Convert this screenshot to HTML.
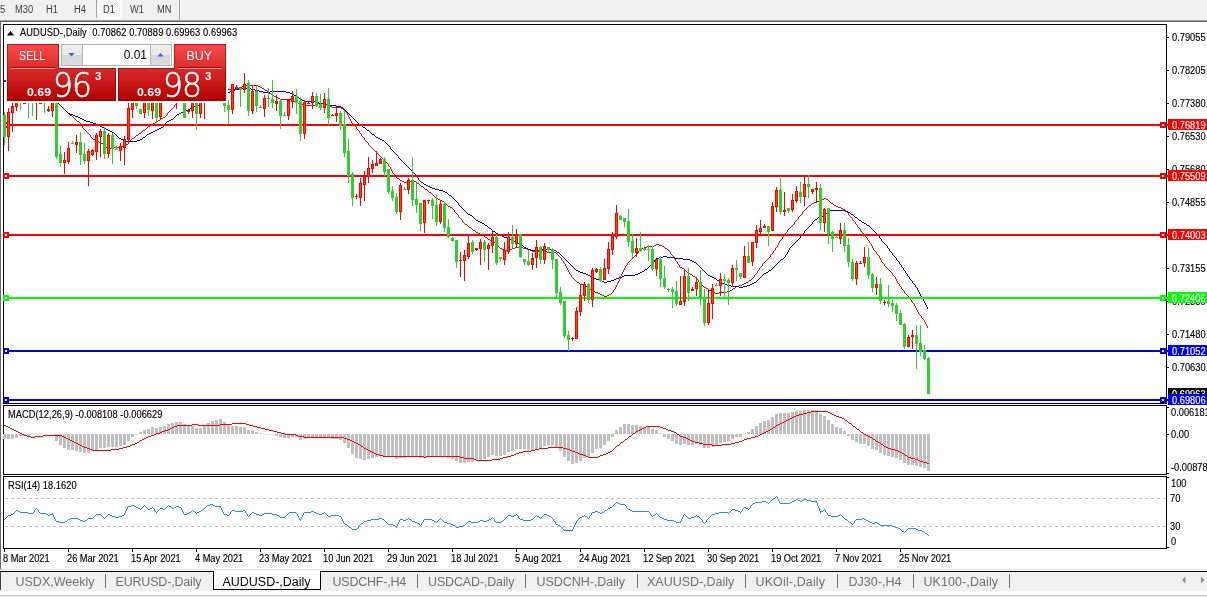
<!DOCTYPE html><html><head><meta charset="utf-8"><title>AUDUSD-,Daily</title>
<style>
html,body{margin:0;padding:0}
body{width:1207px;height:597px;overflow:hidden;background:#f0f0f0;position:relative;font-family:"Liberation Sans", sans-serif;}
.t{position:absolute;white-space:nowrap;line-height:1;color:#000;}
.ax{font-size:10px;letter-spacing:0;transform:scaleX(0.93);transform-origin:0 50%;-webkit-text-stroke:0.15px #000}
.tb{font-size:10px;color:#3c3c3c;top:4.5px;letter-spacing:0px;transform:scaleX(0.93);transform-origin:0 50%}
.tab{font-size:12.5px;color:#707070;top:576px;}
.sep{position:absolute;top:574px;width:1px;height:14px;background:#707070;}
.pl{position:absolute;left:1168px;width:39px;height:11px;color:#fff;font-size:10px;letter-spacing:0;line-height:11px;white-space:nowrap;overflow:hidden;}
.pl span{position:absolute;left:4px;top:0.5px;transform:scaleX(0.93);transform-origin:0 50%;-webkit-text-stroke:0.15px #fff}
svg{position:absolute;left:0;top:0;}
.big{top:24.5px;font-family:"DejaVu Sans","Liberation Sans",sans-serif;font-weight:200;font-size:33px;color:#fff;transform:scaleX(0.95);transform-origin:0 0;letter-spacing:-1px;-webkit-text-stroke:0.55px #fff}
</style></head><body>
<div style="position:absolute;left:0;top:0;width:1207px;height:20px;background:#f0f0f0"></div>
<div style="position:absolute;left:96px;top:0;width:26px;height:19px;background:#fff"></div>
<div style="position:absolute;left:97px;top:0;width:24px;height:18px;background:repeating-conic-gradient(#ffffff 0% 25%, #f0f0f0 0% 50%) 0 0/2px 2px"></div>
<div style="position:absolute;left:96px;top:0;width:1px;height:18px;background:#a0a0a0"></div>
<div style="position:absolute;left:179px;top:0;width:1px;height:20px;background:#a0a0a0"></div><div style="position:absolute;left:180px;top:0;width:1px;height:20px;background:#fff"></div>
<div class="t tb" style="left:0px">5</div>
<div class="t tb" style="left:15px">M30</div>
<div class="t tb" style="left:46px">H1</div>
<div class="t tb" style="left:74px">H4</div>
<div class="t tb" style="left:103px">D1</div>
<div class="t tb" style="left:130px">W1</div>
<div class="t tb" style="left:157px">MN</div>
<div style="position:absolute;left:0;top:20px;width:1207px;height:1px;background:#a0a0a0"></div>
<div style="position:absolute;left:0;top:21px;width:1207px;height:1px;background:#696969"></div>
<div style="position:absolute;left:0;top:22px;width:1207px;height:548px;background:#fff"></div>
<div style="position:absolute;left:0;top:21px;width:1px;height:548px;background:#696969"></div>
<div style="position:absolute;left:0;top:569px;width:1207px;height:1px;background:#e6e6e6"></div><div style="position:absolute;left:0;top:570px;width:1207px;height:1px;background:#f6f6f6"></div>
<div style="position:absolute;left:0;top:571px;width:1207px;height:1px;background:#000"></div>
<div style="position:absolute;left:0;top:572px;width:1207px;height:19px;background:#f0f0f0"></div>
<div style="position:absolute;left:0;top:571px;width:1px;height:19px;background:#404040"></div>
<div style="position:absolute;left:0;top:591px;width:1207px;height:4px;background:#fcfcfc"></div>
<div style="position:absolute;left:0;top:595px;width:1207px;height:1px;background:#c8c8c8"></div>
<div style="position:absolute;left:0;top:596px;width:1207px;height:1px;background:#f4f4f4"></div>
<div style="position:absolute;left:213px;top:571px;width:106px;height:18px;background:#fff;border:1px solid #000;border-top:none;box-sizing:content-box"></div>
<div class="t tab" style="left:15.5px;letter-spacing:0px;">USDX,Weekly</div>
<div class="t tab" style="left:115.5px;letter-spacing:-0.18px;">EURUSD-,Daily</div>
<div class="t tab" style="left:222.5px;letter-spacing:-0.02px;color:#000;">AUDUSD-,Daily</div>
<div class="t tab" style="left:332.5px;letter-spacing:-0.23px;">USDCHF-,H4</div>
<div class="t tab" style="left:428.0px;letter-spacing:-0.15px;">USDCAD-,Daily</div>
<div class="t tab" style="left:536.5px;letter-spacing:-0.03px;">USDCNH-,Daily</div>
<div class="t tab" style="left:647.0px;letter-spacing:-0.02px;">XAUUSD-,Daily</div>
<div class="t tab" style="left:755.5px;letter-spacing:0.13px;">UKOil-,Daily</div>
<div class="t tab" style="left:848.5px;letter-spacing:0.03px;">DJ30-,H4</div>
<div class="t tab" style="left:923.5px;letter-spacing:0.08px;">UK100-,Daily</div>
<div class="sep" style="left:105px"></div>
<div class="sep" style="left:417px"></div>
<div class="sep" style="left:525px"></div>
<div class="sep" style="left:637px"></div>
<div class="sep" style="left:745px"></div>
<div class="sep" style="left:837px"></div>
<div class="sep" style="left:913px"></div>
<div class="sep" style="left:1009px"></div>
<svg width="1207" height="597" viewBox="0 0 1207 597" shape-rendering="crispEdges">
<g fill="#000">
<rect x="3" y="24" width="1164" height="1"/>
<rect x="3" y="24" width="1" height="380"/>
<rect x="3" y="403" width="1164" height="1"/>
<rect x="1166" y="24" width="1" height="380"/>
<rect x="3" y="405" width="1164" height="1"/>
<rect x="3" y="405" width="1" height="70"/>
<rect x="3" y="474" width="1164" height="1"/>
<rect x="1166" y="405" width="1" height="70"/>
<rect x="3" y="476" width="1164" height="1"/>
<rect x="3" y="476" width="1" height="73"/>
<rect x="3" y="548" width="1164" height="1"/>
<rect x="1166" y="476" width="1" height="73"/>
<rect x="1167" y="37" width="2" height="1"/>
<rect x="1167" y="70" width="2" height="1"/>
<rect x="1167" y="103" width="2" height="1"/>
<rect x="1167" y="136" width="2" height="1"/>
<rect x="1167" y="169" width="2" height="1"/>
<rect x="1167" y="202" width="2" height="1"/>
<rect x="1167" y="235" width="2" height="1"/>
<rect x="1167" y="268" width="2" height="1"/>
<rect x="1167" y="301" width="2" height="1"/>
<rect x="1167" y="334" width="2" height="1"/>
<rect x="1167" y="367" width="2" height="1"/>
<rect x="1167" y="400" width="2" height="1"/>
<rect x="1167" y="407" width="2" height="1"/>
<rect x="1167" y="434" width="2" height="1"/>
<rect x="1167" y="473" width="2" height="1"/>
<rect x="1167" y="477" width="2" height="1"/>
<rect x="1167" y="547" width="2" height="1"/>
<rect x="4" y="549" width="1" height="3"/>
<rect x="68" y="549" width="1" height="3"/>
<rect x="132" y="549" width="1" height="3"/>
<rect x="196" y="549" width="1" height="3"/>
<rect x="260" y="549" width="1" height="3"/>
<rect x="324" y="549" width="1" height="3"/>
<rect x="388" y="549" width="1" height="3"/>
<rect x="452" y="549" width="1" height="3"/>
<rect x="516" y="549" width="1" height="3"/>
<rect x="580" y="549" width="1" height="3"/>
<rect x="644" y="549" width="1" height="3"/>
<rect x="708" y="549" width="1" height="3"/>
<rect x="772" y="549" width="1" height="3"/>
<rect x="836" y="549" width="1" height="3"/>
<rect x="900" y="549" width="1" height="3"/>
</g>
<g>
<path d="M58 103h1v1h-1zM176 103h1v1h-1zM59 104h1v1h-1zM175 104h1v1h-1zM60 105h1v1h-1zM174 105h1v1h-1zM61 106h1v1h-1zM174 106h1v1h-1zM62 107h1v1h-1zM173 107h1v1h-1zM63 108h1v1h-1zM172 108h1v1h-1zM64 109h1v1h-1zM171 109h1v1h-1zM65 110h1v1h-1zM170 110h1v1h-1zM66 111h1v1h-1zM169 111h1v1h-1zM67 112h1v1h-1zM168 112h1v1h-1zM68 113h1v1h-1zM167 113h1v1h-1zM69 114h1v1h-1zM167 114h1v1h-1zM70 115h2v1h-2zM166 115h1v1h-1zM72 116h1v1h-1zM165 116h1v1h-1zM73 117h1v1h-1zM163 117h2v1h-2zM74 118h1v1h-1zM161 118h2v1h-2zM75 119h1v1h-1zM160 119h1v1h-1zM76 120h1v1h-1zM158 120h2v1h-2zM77 121h2v1h-2zM157 121h1v1h-1zM79 122h1v1h-1zM155 122h2v1h-2zM80 123h1v1h-1zM153 123h2v1h-2zM81 124h1v1h-1zM151 124h2v1h-2zM81 125h1v1h-1zM150 125h1v1h-1zM82 126h1v1h-1zM148 126h2v1h-2zM82 127h1v1h-1zM147 127h1v1h-1zM83 128h1v1h-1zM146 128h1v1h-1zM84 129h1v1h-1zM145 129h1v1h-1zM85 130h1v1h-1zM143 130h2v1h-2zM86 131h1v1h-1zM142 131h1v1h-1zM87 132h1v1h-1zM141 132h1v1h-1zM88 133h1v1h-1zM139 133h2v1h-2zM89 134h1v1h-1zM138 134h1v1h-1zM90 135h1v1h-1zM136 135h2v1h-2zM90 136h1v1h-1zM135 136h1v1h-1zM91 137h1v1h-1zM134 137h1v1h-1zM92 138h1v1h-1zM132 138h2v1h-2zM93 139h2v1h-2zM131 139h1v1h-1zM95 140h2v1h-2zM130 140h1v1h-1zM97 141h2v1h-2zM129 141h1v1h-1zM99 142h2v1h-2zM128 142h1v1h-1zM101 143h2v1h-2zM128 143h1v1h-1zM103 144h1v1h-1zM126 144h2v1h-2zM104 145h1v1h-1zM124 145h2v1h-2zM105 146h1v1h-1zM120 146h4v1h-4zM106 147h2v1h-2zM114 147h6v1h-6zM108 148h6v1h-6z" fill="#ff0000"/>
<path d="M244 85h14v1h-14zM242 86h2v1h-2zM258 86h2v1h-2zM239 87h3v1h-3zM260 87h2v1h-2zM235 88h4v1h-4zM262 88h2v1h-2zM228 89h7v1h-7zM264 89h1v1h-1zM265 90h2v1h-2zM267 91h1v1h-1zM268 92h1v1h-1zM269 93h2v1h-2zM271 94h1v1h-1zM272 95h2v1h-2zM274 96h2v1h-2zM276 97h2v1h-2zM278 98h2v1h-2zM280 99h11v1h-11zM291 100h3v1h-3zM294 101h2v1h-2zM296 102h2v1h-2zM298 103h2v1h-2zM316 103h7v1h-7zM300 104h3v1h-3zM315 104h1v1h-1zM323 104h4v1h-4zM303 105h12v1h-12zM327 105h3v1h-3zM330 106h2v1h-2zM332 107h9v1h-9zM341 108h2v1h-2zM343 109h1v1h-1zM344 110h1v1h-1zM345 111h1v1h-1zM346 112h1v1h-1zM347 113h1v1h-1zM347 114h1v1h-1zM348 115h1v1h-1zM348 116h1v1h-1zM349 117h1v1h-1zM349 118h1v1h-1zM350 119h1v1h-1zM350 120h1v1h-1zM351 121h1v1h-1zM351 122h1v1h-1zM352 123h1v1h-1zM353 124h1v1h-1zM354 125h1v1h-1zM355 126h1v1h-1zM356 127h1v1h-1zM356 128h1v1h-1zM357 129h1v1h-1zM358 130h1v1h-1zM359 131h1v1h-1zM359 132h1v1h-1zM360 133h1v1h-1zM361 134h1v1h-1zM361 135h1v1h-1zM362 136h1v1h-1zM363 137h1v1h-1zM364 138h1v1h-1zM364 139h1v1h-1zM365 140h1v1h-1zM366 141h1v1h-1zM367 142h1v1h-1zM368 143h1v1h-1zM368 144h1v1h-1zM369 145h1v1h-1zM370 146h1v1h-1zM371 147h1v1h-1zM372 148h1v1h-1zM373 149h1v1h-1zM374 150h1v1h-1zM375 151h1v1h-1zM376 152h1v1h-1zM377 153h1v1h-1zM378 154h1v1h-1zM379 155h1v1h-1zM380 156h1v1h-1zM381 157h1v1h-1zM382 158h1v1h-1zM383 159h1v1h-1zM384 160h1v1h-1zM385 161h1v1h-1zM386 162h1v1h-1zM387 163h1v1h-1zM388 164h1v1h-1zM388 165h1v1h-1zM389 166h1v1h-1zM390 167h1v1h-1zM390 168h1v1h-1zM391 169h1v1h-1zM391 170h1v1h-1zM392 171h1v1h-1zM392 172h1v1h-1zM393 173h1v1h-1zM394 174h1v1h-1zM394 175h1v1h-1zM395 176h1v1h-1zM396 177h1v1h-1zM397 178h2v1h-2zM399 179h1v1h-1zM400 180h2v1h-2zM411 180h3v1h-3zM402 181h2v1h-2zM407 181h4v1h-4zM414 181h2v1h-2zM404 182h3v1h-3zM416 182h1v1h-1zM417 183h2v1h-2zM419 184h1v1h-1zM420 185h1v1h-1zM421 186h2v1h-2zM423 187h1v1h-1zM424 188h1v1h-1zM425 189h2v1h-2zM427 190h1v1h-1zM428 191h1v1h-1zM429 192h2v1h-2zM431 193h1v1h-1zM432 194h1v1h-1zM433 195h1v1h-1zM434 196h1v1h-1zM435 197h1v1h-1zM436 198h2v1h-2zM824 198h2v1h-2zM438 199h2v1h-2zM822 199h2v1h-2zM826 199h2v1h-2zM440 200h2v1h-2zM819 200h3v1h-3zM828 200h1v1h-1zM442 201h2v1h-2zM816 201h3v1h-3zM829 201h1v1h-1zM444 202h1v1h-1zM814 202h2v1h-2zM830 202h1v1h-1zM445 203h1v1h-1zM812 203h2v1h-2zM831 203h2v1h-2zM446 204h1v1h-1zM811 204h1v1h-1zM833 204h1v1h-1zM447 205h1v1h-1zM809 205h2v1h-2zM834 205h2v1h-2zM448 206h2v1h-2zM808 206h1v1h-1zM836 206h2v1h-2zM450 207h2v1h-2zM807 207h1v1h-1zM838 207h3v1h-3zM452 208h1v1h-1zM806 208h1v1h-1zM841 208h2v1h-2zM453 209h1v1h-1zM805 209h1v1h-1zM843 209h2v1h-2zM454 210h1v1h-1zM804 210h1v1h-1zM845 210h1v1h-1zM454 211h1v1h-1zM803 211h1v1h-1zM846 211h1v1h-1zM455 212h1v1h-1zM802 212h1v1h-1zM847 212h1v1h-1zM456 213h1v1h-1zM802 213h1v1h-1zM848 213h1v1h-1zM457 214h1v1h-1zM801 214h1v1h-1zM848 214h1v1h-1zM458 215h1v1h-1zM800 215h1v1h-1zM849 215h1v1h-1zM458 216h1v1h-1zM799 216h1v1h-1zM850 216h1v1h-1zM459 217h1v1h-1zM798 217h1v1h-1zM851 217h1v1h-1zM460 218h1v1h-1zM798 218h1v1h-1zM852 218h1v1h-1zM461 219h1v1h-1zM797 219h1v1h-1zM852 219h1v1h-1zM462 220h1v1h-1zM796 220h1v1h-1zM853 220h1v1h-1zM462 221h1v1h-1zM795 221h1v1h-1zM854 221h1v1h-1zM463 222h1v1h-1zM794 222h1v1h-1zM855 222h1v1h-1zM464 223h1v1h-1zM794 223h1v1h-1zM855 223h1v1h-1zM465 224h2v1h-2zM793 224h1v1h-1zM856 224h1v1h-1zM467 225h1v1h-1zM792 225h1v1h-1zM857 225h1v1h-1zM468 226h1v1h-1zM791 226h1v1h-1zM857 226h1v1h-1zM469 227h2v1h-2zM790 227h1v1h-1zM858 227h1v1h-1zM471 228h1v1h-1zM789 228h1v1h-1zM859 228h1v1h-1zM472 229h1v1h-1zM788 229h1v1h-1zM860 229h1v1h-1zM473 230h2v1h-2zM787 230h1v1h-1zM860 230h1v1h-1zM475 231h1v1h-1zM787 231h1v1h-1zM861 231h1v1h-1zM476 232h2v1h-2zM786 232h1v1h-1zM862 232h1v1h-1zM478 233h2v1h-2zM785 233h1v1h-1zM863 233h1v1h-1zM480 234h2v1h-2zM785 234h1v1h-1zM864 234h1v1h-1zM482 235h2v1h-2zM784 235h1v1h-1zM864 235h1v1h-1zM484 236h1v1h-1zM783 236h1v1h-1zM865 236h1v1h-1zM485 237h2v1h-2zM782 237h1v1h-1zM866 237h1v1h-1zM487 238h1v1h-1zM782 238h1v1h-1zM867 238h1v1h-1zM488 239h2v1h-2zM781 239h1v1h-1zM867 239h1v1h-1zM490 240h2v1h-2zM780 240h1v1h-1zM868 240h1v1h-1zM492 241h1v1h-1zM779 241h1v1h-1zM869 241h1v1h-1zM493 242h2v1h-2zM779 242h1v1h-1zM869 242h1v1h-1zM495 243h1v1h-1zM778 243h1v1h-1zM870 243h1v1h-1zM496 244h1v1h-1zM656 244h3v1h-3zM778 244h1v1h-1zM871 244h1v1h-1zM497 245h1v1h-1zM654 245h2v1h-2zM659 245h3v1h-3zM777 245h1v1h-1zM871 245h1v1h-1zM498 246h1v1h-1zM647 246h7v1h-7zM662 246h2v1h-2zM777 246h1v1h-1zM872 246h1v1h-1zM499 247h1v1h-1zM515 247h8v1h-8zM644 247h3v1h-3zM664 247h1v1h-1zM776 247h1v1h-1zM872 247h1v1h-1zM500 248h2v1h-2zM512 248h3v1h-3zM523 248h4v1h-4zM642 248h2v1h-2zM665 248h2v1h-2zM775 248h1v1h-1zM873 248h1v1h-1zM502 249h2v1h-2zM510 249h2v1h-2zM527 249h3v1h-3zM640 249h2v1h-2zM667 249h1v1h-1zM775 249h1v1h-1zM873 249h1v1h-1zM504 250h6v1h-6zM530 250h2v1h-2zM539 250h4v1h-4zM639 250h1v1h-1zM668 250h1v1h-1zM774 250h1v1h-1zM874 250h1v1h-1zM532 251h7v1h-7zM543 251h4v1h-4zM551 251h3v1h-3zM638 251h1v1h-1zM669 251h1v1h-1zM773 251h1v1h-1zM875 251h1v1h-1zM547 252h4v1h-4zM554 252h2v1h-2zM638 252h1v1h-1zM670 252h1v1h-1zM773 252h1v1h-1zM876 252h1v1h-1zM556 253h1v1h-1zM637 253h1v1h-1zM670 253h1v1h-1zM772 253h1v1h-1zM876 253h1v1h-1zM557 254h1v1h-1zM636 254h1v1h-1zM671 254h1v1h-1zM771 254h1v1h-1zM877 254h1v1h-1zM558 255h1v1h-1zM635 255h1v1h-1zM672 255h1v1h-1zM770 255h1v1h-1zM878 255h1v1h-1zM559 256h1v1h-1zM634 256h1v1h-1zM673 256h1v1h-1zM770 256h1v1h-1zM879 256h1v1h-1zM560 257h1v1h-1zM633 257h1v1h-1zM673 257h1v1h-1zM769 257h1v1h-1zM879 257h1v1h-1zM561 258h1v1h-1zM632 258h1v1h-1zM674 258h1v1h-1zM768 258h1v1h-1zM880 258h1v1h-1zM561 259h1v1h-1zM631 259h1v1h-1zM675 259h1v1h-1zM767 259h1v1h-1zM880 259h1v1h-1zM562 260h1v1h-1zM630 260h1v1h-1zM675 260h1v1h-1zM766 260h1v1h-1zM881 260h1v1h-1zM563 261h1v1h-1zM629 261h1v1h-1zM676 261h1v1h-1zM765 261h1v1h-1zM881 261h1v1h-1zM563 262h1v1h-1zM628 262h1v1h-1zM677 262h1v1h-1zM764 262h1v1h-1zM882 262h1v1h-1zM564 263h1v1h-1zM627 263h1v1h-1zM677 263h1v1h-1zM763 263h1v1h-1zM883 263h1v1h-1zM565 264h1v1h-1zM627 264h1v1h-1zM678 264h1v1h-1zM762 264h1v1h-1zM884 264h1v1h-1zM565 265h1v1h-1zM626 265h1v1h-1zM679 265h1v1h-1zM762 265h1v1h-1zM884 265h1v1h-1zM566 266h1v1h-1zM625 266h1v1h-1zM679 266h1v1h-1zM761 266h1v1h-1zM885 266h1v1h-1zM566 267h1v1h-1zM625 267h1v1h-1zM680 267h2v1h-2zM760 267h1v1h-1zM886 267h1v1h-1zM567 268h1v1h-1zM624 268h1v1h-1zM682 268h2v1h-2zM759 268h1v1h-1zM887 268h1v1h-1zM567 269h1v1h-1zM624 269h1v1h-1zM684 269h1v1h-1zM759 269h1v1h-1zM888 269h1v1h-1zM568 270h1v1h-1zM623 270h1v1h-1zM685 270h1v1h-1zM758 270h1v1h-1zM889 270h1v1h-1zM568 271h1v1h-1zM623 271h1v1h-1zM686 271h1v1h-1zM757 271h1v1h-1zM890 271h1v1h-1zM569 272h1v1h-1zM622 272h1v1h-1zM687 272h1v1h-1zM757 272h1v1h-1zM891 272h1v1h-1zM569 273h1v1h-1zM622 273h1v1h-1zM688 273h2v1h-2zM756 273h1v1h-1zM892 273h1v1h-1zM570 274h1v1h-1zM621 274h1v1h-1zM690 274h2v1h-2zM755 274h1v1h-1zM892 274h1v1h-1zM571 275h1v1h-1zM621 275h1v1h-1zM692 275h1v1h-1zM754 275h1v1h-1zM893 275h1v1h-1zM571 276h1v1h-1zM620 276h1v1h-1zM693 276h2v1h-2zM754 276h1v1h-1zM894 276h1v1h-1zM572 277h1v1h-1zM620 277h1v1h-1zM695 277h1v1h-1zM753 277h1v1h-1zM895 277h1v1h-1zM573 278h1v1h-1zM620 278h1v1h-1zM696 278h1v1h-1zM752 278h1v1h-1zM895 278h1v1h-1zM574 279h1v1h-1zM619 279h1v1h-1zM697 279h1v1h-1zM751 279h1v1h-1zM896 279h1v1h-1zM575 280h1v1h-1zM619 280h1v1h-1zM698 280h1v1h-1zM749 280h2v1h-2zM896 280h1v1h-1zM576 281h1v1h-1zM618 281h1v1h-1zM698 281h1v1h-1zM748 281h1v1h-1zM897 281h1v1h-1zM577 282h2v1h-2zM618 282h1v1h-1zM699 282h1v1h-1zM746 282h2v1h-2zM897 282h1v1h-1zM579 283h1v1h-1zM617 283h1v1h-1zM700 283h1v1h-1zM744 283h2v1h-2zM898 283h1v1h-1zM580 284h3v1h-3zM617 284h1v1h-1zM701 284h1v1h-1zM742 284h2v1h-2zM899 284h1v1h-1zM583 285h2v1h-2zM616 285h1v1h-1zM702 285h1v1h-1zM739 285h3v1h-3zM899 285h1v1h-1zM585 286h2v1h-2zM616 286h1v1h-1zM703 286h1v1h-1zM736 286h3v1h-3zM900 286h1v1h-1zM587 287h1v1h-1zM615 287h1v1h-1zM704 287h2v1h-2zM735 287h1v1h-1zM901 287h1v1h-1zM588 288h1v1h-1zM615 288h1v1h-1zM706 288h2v1h-2zM733 288h2v1h-2zM901 288h1v1h-1zM589 289h2v1h-2zM614 289h1v1h-1zM708 289h1v1h-1zM732 289h1v1h-1zM902 289h1v1h-1zM591 290h1v1h-1zM613 290h1v1h-1zM709 290h2v1h-2zM730 290h2v1h-2zM903 290h1v1h-1zM592 291h3v1h-3zM613 291h1v1h-1zM711 291h1v1h-1zM727 291h3v1h-3zM904 291h1v1h-1zM595 292h3v1h-3zM612 292h1v1h-1zM712 292h3v1h-3zM719 292h8v1h-8zM904 292h1v1h-1zM598 293h2v1h-2zM611 293h1v1h-1zM715 293h4v1h-4zM905 293h1v1h-1zM600 294h2v1h-2zM609 294h2v1h-2zM906 294h1v1h-1zM602 295h2v1h-2zM607 295h2v1h-2zM907 295h1v1h-1zM604 296h3v1h-3zM908 296h1v1h-1zM908 297h1v1h-1zM909 298h1v1h-1zM910 299h1v1h-1zM911 300h1v1h-1zM911 301h1v1h-1zM912 302h1v1h-1zM913 303h1v1h-1zM914 304h1v1h-1zM914 305h1v1h-1zM915 306h1v1h-1zM915 307h1v1h-1zM916 308h1v1h-1zM916 309h1v1h-1zM917 310h1v1h-1zM917 311h1v1h-1zM918 312h1v1h-1zM918 313h1v1h-1zM919 314h1v1h-1zM920 315h1v1h-1zM921 316h1v1h-1zM921 317h1v1h-1zM922 318h1v1h-1zM923 319h1v1h-1zM924 320h1v1h-1zM924 321h1v1h-1zM925 322h1v1h-1zM925 323h1v1h-1zM926 324h1v1h-1zM926 325h1v1h-1zM927 326h1v1h-1zM927 327h1v1h-1z" fill="#ff0000"/>
<path d="M58 103h1v1h-1zM201 103h1v1h-1zM59 104h1v1h-1zM199 104h2v1h-2zM60 105h1v1h-1zM197 105h2v1h-2zM61 106h1v1h-1zM194 106h3v1h-3zM62 107h1v1h-1zM192 107h2v1h-2zM63 108h1v1h-1zM190 108h2v1h-2zM64 109h1v1h-1zM188 109h2v1h-2zM65 110h1v1h-1zM186 110h2v1h-2zM66 111h1v1h-1zM184 111h2v1h-2zM67 112h1v1h-1zM181 112h3v1h-3zM68 113h2v1h-2zM179 113h2v1h-2zM70 114h3v1h-3zM177 114h2v1h-2zM73 115h2v1h-2zM176 115h1v1h-1zM75 116h3v1h-3zM175 116h1v1h-1zM78 117h2v1h-2zM174 117h1v1h-1zM80 118h2v1h-2zM173 118h1v1h-1zM82 119h2v1h-2zM171 119h2v1h-2zM84 120h2v1h-2zM169 120h2v1h-2zM86 121h4v1h-4zM167 121h2v1h-2zM90 122h3v1h-3zM166 122h1v1h-1zM93 123h3v1h-3zM165 123h1v1h-1zM96 124h2v1h-2zM165 124h1v1h-1zM98 125h2v1h-2zM164 125h1v1h-1zM100 126h2v1h-2zM163 126h1v1h-1zM102 127h2v1h-2zM161 127h2v1h-2zM104 128h2v1h-2zM159 128h2v1h-2zM106 129h2v1h-2zM157 129h2v1h-2zM108 130h2v1h-2zM155 130h2v1h-2zM110 131h2v1h-2zM153 131h2v1h-2zM112 132h2v1h-2zM151 132h2v1h-2zM114 133h1v1h-1zM149 133h2v1h-2zM115 134h1v1h-1zM147 134h2v1h-2zM116 135h1v1h-1zM146 135h1v1h-1zM117 136h1v1h-1zM145 136h1v1h-1zM118 137h1v1h-1zM143 137h2v1h-2zM119 138h2v1h-2zM142 138h1v1h-1zM121 139h2v1h-2zM140 139h2v1h-2zM123 140h3v1h-3zM137 140h3v1h-3zM126 141h11v1h-11z" fill="#0000cd"/>
<path d="M239 88h12v1h-12zM235 89h4v1h-4zM251 89h4v1h-4zM232 90h3v1h-3zM255 90h4v1h-4zM230 91h2v1h-2zM259 91h4v1h-4zM270 91h16v1h-16zM228 92h2v1h-2zM263 92h7v1h-7zM286 92h4v1h-4zM290 93h2v1h-2zM292 94h2v1h-2zM294 95h2v1h-2zM296 96h1v1h-1zM297 97h2v1h-2zM299 98h1v1h-1zM300 99h2v1h-2zM302 100h2v1h-2zM304 101h11v1h-11zM315 102h4v1h-4zM319 103h5v1h-5zM324 104h6v1h-6zM330 105h6v1h-6zM336 106h5v1h-5zM341 107h2v1h-2zM343 108h1v1h-1zM344 109h1v1h-1zM345 110h1v1h-1zM346 111h1v1h-1zM347 112h1v1h-1zM348 113h1v1h-1zM349 114h1v1h-1zM350 115h1v1h-1zM351 116h1v1h-1zM352 117h1v1h-1zM353 118h1v1h-1zM354 119h1v1h-1zM355 120h1v1h-1zM356 121h1v1h-1zM357 122h1v1h-1zM358 123h1v1h-1zM359 124h2v1h-2zM361 125h1v1h-1zM362 126h1v1h-1zM363 127h2v1h-2zM365 128h1v1h-1zM366 129h1v1h-1zM367 130h2v1h-2zM369 131h1v1h-1zM370 132h1v1h-1zM371 133h1v1h-1zM372 134h2v1h-2zM374 135h1v1h-1zM375 136h1v1h-1zM376 137h2v1h-2zM378 138h2v1h-2zM380 139h2v1h-2zM382 140h2v1h-2zM384 141h1v1h-1zM385 142h1v1h-1zM386 143h1v1h-1zM387 144h1v1h-1zM388 145h1v1h-1zM389 146h1v1h-1zM390 147h1v1h-1zM390 148h1v1h-1zM391 149h1v1h-1zM392 150h1v1h-1zM393 151h1v1h-1zM394 152h1v1h-1zM395 153h1v1h-1zM396 154h1v1h-1zM397 155h1v1h-1zM398 156h1v1h-1zM398 157h1v1h-1zM399 158h1v1h-1zM400 159h1v1h-1zM401 160h1v1h-1zM402 161h1v1h-1zM403 162h1v1h-1zM404 163h1v1h-1zM405 164h1v1h-1zM406 165h1v1h-1zM407 166h1v1h-1zM408 167h1v1h-1zM409 168h1v1h-1zM410 169h1v1h-1zM411 170h1v1h-1zM412 171h1v1h-1zM413 172h1v1h-1zM414 173h1v1h-1zM415 174h1v1h-1zM415 175h1v1h-1zM416 176h1v1h-1zM417 177h1v1h-1zM418 178h1v1h-1zM418 179h1v1h-1zM419 180h1v1h-1zM420 181h1v1h-1zM421 182h2v1h-2zM423 183h1v1h-1zM424 184h2v1h-2zM426 185h2v1h-2zM428 186h2v1h-2zM430 187h2v1h-2zM432 188h3v1h-3zM435 189h4v1h-4zM439 190h4v1h-4zM443 191h2v1h-2zM445 192h2v1h-2zM447 193h1v1h-1zM448 194h1v1h-1zM449 195h2v1h-2zM451 196h1v1h-1zM452 197h1v1h-1zM453 198h1v1h-1zM454 199h1v1h-1zM455 200h1v1h-1zM456 201h1v1h-1zM457 202h1v1h-1zM458 203h1v1h-1zM458 204h1v1h-1zM459 205h1v1h-1zM460 206h1v1h-1zM461 207h1v1h-1zM462 208h1v1h-1zM463 209h1v1h-1zM464 210h1v1h-1zM830 210h15v1h-15zM465 211h1v1h-1zM829 211h1v1h-1zM845 211h3v1h-3zM466 212h1v1h-1zM827 212h2v1h-2zM848 212h2v1h-2zM467 213h1v1h-1zM826 213h1v1h-1zM850 213h1v1h-1zM468 214h2v1h-2zM825 214h1v1h-1zM851 214h2v1h-2zM470 215h2v1h-2zM823 215h2v1h-2zM853 215h1v1h-1zM472 216h1v1h-1zM821 216h2v1h-2zM854 216h1v1h-1zM473 217h1v1h-1zM818 217h3v1h-3zM855 217h2v1h-2zM474 218h1v1h-1zM817 218h1v1h-1zM857 218h1v1h-1zM475 219h1v1h-1zM815 219h2v1h-2zM858 219h1v1h-1zM476 220h2v1h-2zM814 220h1v1h-1zM859 220h2v1h-2zM478 221h2v1h-2zM813 221h1v1h-1zM861 221h1v1h-1zM480 222h2v1h-2zM812 222h1v1h-1zM862 222h2v1h-2zM482 223h2v1h-2zM812 223h1v1h-1zM864 223h2v1h-2zM484 224h1v1h-1zM811 224h1v1h-1zM866 224h1v1h-1zM485 225h2v1h-2zM810 225h1v1h-1zM867 225h2v1h-2zM487 226h1v1h-1zM809 226h1v1h-1zM869 226h1v1h-1zM488 227h1v1h-1zM808 227h1v1h-1zM870 227h1v1h-1zM489 228h2v1h-2zM807 228h1v1h-1zM871 228h1v1h-1zM491 229h1v1h-1zM806 229h1v1h-1zM872 229h1v1h-1zM492 230h1v1h-1zM805 230h1v1h-1zM873 230h1v1h-1zM493 231h2v1h-2zM804 231h1v1h-1zM874 231h1v1h-1zM495 232h1v1h-1zM804 232h1v1h-1zM875 232h1v1h-1zM496 233h2v1h-2zM803 233h1v1h-1zM876 233h1v1h-1zM498 234h2v1h-2zM802 234h1v1h-1zM877 234h1v1h-1zM500 235h2v1h-2zM801 235h1v1h-1zM878 235h1v1h-1zM502 236h2v1h-2zM800 236h1v1h-1zM879 236h1v1h-1zM504 237h3v1h-3zM800 237h1v1h-1zM879 237h1v1h-1zM507 238h3v1h-3zM799 238h1v1h-1zM880 238h1v1h-1zM510 239h2v1h-2zM798 239h1v1h-1zM881 239h1v1h-1zM512 240h2v1h-2zM797 240h1v1h-1zM881 240h1v1h-1zM514 241h2v1h-2zM796 241h1v1h-1zM882 241h1v1h-1zM516 242h2v1h-2zM795 242h1v1h-1zM883 242h1v1h-1zM518 243h2v1h-2zM794 243h1v1h-1zM884 243h1v1h-1zM520 244h1v1h-1zM793 244h1v1h-1zM885 244h1v1h-1zM521 245h2v1h-2zM792 245h1v1h-1zM886 245h1v1h-1zM523 246h1v1h-1zM791 246h1v1h-1zM887 246h1v1h-1zM524 247h2v1h-2zM790 247h1v1h-1zM887 247h1v1h-1zM526 248h2v1h-2zM789 248h1v1h-1zM888 248h1v1h-1zM528 249h3v1h-3zM539 249h15v1h-15zM789 249h1v1h-1zM889 249h1v1h-1zM531 250h8v1h-8zM554 250h2v1h-2zM788 250h1v1h-1zM889 250h1v1h-1zM556 251h1v1h-1zM788 251h1v1h-1zM890 251h1v1h-1zM557 252h2v1h-2zM787 252h1v1h-1zM891 252h1v1h-1zM559 253h1v1h-1zM787 253h1v1h-1zM892 253h1v1h-1zM560 254h1v1h-1zM786 254h1v1h-1zM892 254h1v1h-1zM561 255h1v1h-1zM785 255h1v1h-1zM893 255h1v1h-1zM562 256h1v1h-1zM663 256h4v1h-4zM785 256h1v1h-1zM894 256h1v1h-1zM563 257h1v1h-1zM659 257h4v1h-4zM667 257h8v1h-8zM784 257h1v1h-1zM895 257h1v1h-1zM564 258h1v1h-1zM656 258h3v1h-3zM675 258h8v1h-8zM783 258h1v1h-1zM896 258h1v1h-1zM565 259h1v1h-1zM655 259h1v1h-1zM683 259h7v1h-7zM781 259h2v1h-2zM896 259h1v1h-1zM566 260h1v1h-1zM654 260h1v1h-1zM690 260h2v1h-2zM780 260h1v1h-1zM897 260h1v1h-1zM567 261h1v1h-1zM654 261h1v1h-1zM692 261h2v1h-2zM779 261h1v1h-1zM898 261h1v1h-1zM568 262h1v1h-1zM653 262h1v1h-1zM694 262h2v1h-2zM778 262h1v1h-1zM899 262h1v1h-1zM569 263h1v1h-1zM652 263h1v1h-1zM696 263h1v1h-1zM777 263h1v1h-1zM899 263h1v1h-1zM570 264h1v1h-1zM651 264h1v1h-1zM697 264h1v1h-1zM776 264h1v1h-1zM900 264h1v1h-1zM571 265h1v1h-1zM650 265h1v1h-1zM698 265h1v1h-1zM775 265h1v1h-1zM901 265h1v1h-1zM572 266h1v1h-1zM649 266h1v1h-1zM699 266h1v1h-1zM774 266h1v1h-1zM901 266h1v1h-1zM573 267h1v1h-1zM648 267h1v1h-1zM700 267h1v1h-1zM773 267h1v1h-1zM902 267h1v1h-1zM574 268h1v1h-1zM647 268h1v1h-1zM701 268h1v1h-1zM772 268h1v1h-1zM903 268h1v1h-1zM575 269h1v1h-1zM645 269h2v1h-2zM702 269h1v1h-1zM771 269h1v1h-1zM903 269h1v1h-1zM576 270h2v1h-2zM644 270h1v1h-1zM703 270h1v1h-1zM769 270h2v1h-2zM904 270h1v1h-1zM578 271h2v1h-2zM642 271h2v1h-2zM704 271h1v1h-1zM768 271h1v1h-1zM905 271h1v1h-1zM580 272h3v1h-3zM640 272h2v1h-2zM705 272h1v1h-1zM766 272h2v1h-2zM905 272h1v1h-1zM583 273h3v1h-3zM638 273h2v1h-2zM706 273h1v1h-1zM764 273h2v1h-2zM906 273h1v1h-1zM586 274h2v1h-2zM635 274h3v1h-3zM707 274h1v1h-1zM763 274h1v1h-1zM907 274h1v1h-1zM588 275h2v1h-2zM624 275h11v1h-11zM708 275h2v1h-2zM762 275h1v1h-1zM907 275h1v1h-1zM590 276h2v1h-2zM622 276h2v1h-2zM710 276h2v1h-2zM761 276h1v1h-1zM908 276h1v1h-1zM592 277h2v1h-2zM619 277h3v1h-3zM712 277h2v1h-2zM760 277h1v1h-1zM909 277h1v1h-1zM594 278h2v1h-2zM616 278h3v1h-3zM714 278h2v1h-2zM759 278h1v1h-1zM909 278h1v1h-1zM596 279h3v1h-3zM614 279h2v1h-2zM716 279h1v1h-1zM758 279h1v1h-1zM910 279h1v1h-1zM599 280h3v1h-3zM611 280h3v1h-3zM717 280h2v1h-2zM757 280h1v1h-1zM911 280h1v1h-1zM602 281h2v1h-2zM607 281h4v1h-4zM719 281h1v1h-1zM756 281h1v1h-1zM912 281h1v1h-1zM604 282h3v1h-3zM720 282h2v1h-2zM754 282h2v1h-2zM912 282h1v1h-1zM722 283h2v1h-2zM752 283h2v1h-2zM913 283h1v1h-1zM724 284h3v1h-3zM750 284h2v1h-2zM914 284h1v1h-1zM727 285h4v1h-4zM747 285h3v1h-3zM915 285h1v1h-1zM731 286h8v1h-8zM743 286h4v1h-4zM915 286h1v1h-1zM739 287h4v1h-4zM916 287h1v1h-1zM917 288h1v1h-1zM917 289h1v1h-1zM918 290h1v1h-1zM918 291h1v1h-1zM919 292h1v1h-1zM919 293h1v1h-1zM920 294h1v1h-1zM920 295h1v1h-1zM921 296h1v1h-1zM921 297h1v1h-1zM922 298h1v1h-1zM923 299h1v1h-1zM923 300h1v1h-1zM924 301h1v1h-1zM924 302h1v1h-1zM925 303h1v1h-1zM925 304h1v1h-1zM926 305h1v1h-1zM926 306h1v1h-1zM927 307h1v1h-1zM927 308h1v1h-1z" fill="#0000cd"/>
<rect x="4" y="81" width="2" height="1" fill="#0000cd"/><rect x="4" y="80" width="2" height="1" fill="#ff0000"/>
</g>
<rect x="4" y="124" width="1164" height="2" fill="#ff0000"/>
<rect x="3" y="122" width="6" height="6" fill="#ff0000"/>
<rect x="5" y="124" width="2" height="2" fill="#fff"/>
<rect x="1160" y="122" width="6" height="6" fill="#ff0000"/>
<rect x="1162" y="124" width="2" height="2" fill="#fff"/>
<rect x="4" y="175" width="1164" height="2" fill="#ff0000"/>
<rect x="3" y="173" width="6" height="6" fill="#ff0000"/>
<rect x="5" y="175" width="2" height="2" fill="#fff"/>
<rect x="1160" y="173" width="6" height="6" fill="#ff0000"/>
<rect x="1162" y="175" width="2" height="2" fill="#fff"/>
<rect x="4" y="234" width="1164" height="2" fill="#ff0000"/>
<rect x="3" y="232" width="6" height="6" fill="#ff0000"/>
<rect x="5" y="234" width="2" height="2" fill="#fff"/>
<rect x="1160" y="232" width="6" height="6" fill="#ff0000"/>
<rect x="1162" y="234" width="2" height="2" fill="#fff"/>
<rect x="4" y="297" width="1164" height="2" fill="#00ff00"/>
<rect x="3" y="295" width="6" height="6" fill="#00ff00"/>
<rect x="5" y="297" width="2" height="2" fill="#fff"/>
<rect x="1160" y="295" width="6" height="6" fill="#00ff00"/>
<rect x="1162" y="297" width="2" height="2" fill="#fff"/>
<rect x="4" y="350" width="1164" height="2" fill="#0000ff"/>
<rect x="3" y="348" width="6" height="6" fill="#0000ff"/>
<rect x="5" y="350" width="2" height="2" fill="#fff"/>
<rect x="1160" y="348" width="6" height="6" fill="#0000ff"/>
<rect x="1162" y="350" width="2" height="2" fill="#fff"/>
<rect x="4" y="399" width="1164" height="2" fill="#0000ff"/>
<rect x="3" y="397" width="6" height="6" fill="#0000ff"/>
<rect x="5" y="399" width="2" height="2" fill="#fff"/>
<rect x="1160" y="397" width="6" height="6" fill="#0000ff"/>
<rect x="1162" y="399" width="2" height="2" fill="#fff"/>
<g>
<rect x="4" y="112" width="1" height="33" fill="#32cd32"/>
<rect x="3" y="115" width="3" height="22" fill="#32cd32"/>
<rect x="8" y="108" width="1" height="43" fill="#ff0000"/>
<rect x="7" y="112" width="3" height="25" fill="#ff0000"/>
<rect x="8" y="113" width="1" height="23" fill="#ff4500"/>
<rect x="12" y="100" width="1" height="32" fill="#ff0000"/>
<rect x="11" y="106" width="3" height="7" fill="#ff0000"/>
<rect x="12" y="107" width="1" height="5" fill="#ff4500"/>
<rect x="16" y="98" width="1" height="13" fill="#ff0000"/>
<rect x="15" y="100" width="3" height="7" fill="#ff0000"/>
<rect x="16" y="101" width="1" height="5" fill="#ff4500"/>
<rect x="20" y="95" width="1" height="15" fill="#32cd32"/>
<rect x="19" y="97" width="3" height="4" fill="#32cd32"/>
<rect x="24" y="96" width="1" height="8" fill="#ff0000"/>
<rect x="23" y="98" width="3" height="6" fill="#ff0000"/>
<rect x="24" y="99" width="1" height="4" fill="#ff4500"/>
<rect x="28" y="95" width="1" height="23" fill="#32cd32"/>
<rect x="27" y="98" width="3" height="3" fill="#32cd32"/>
<rect x="32" y="95" width="1" height="21" fill="#32cd32"/>
<rect x="31" y="98" width="3" height="3" fill="#32cd32"/>
<rect x="36" y="95" width="1" height="25" fill="#ff0000"/>
<rect x="35" y="98" width="3" height="3" fill="#ff0000"/>
<rect x="36" y="99" width="1" height="1" fill="#ff4500"/>
<rect x="40" y="95" width="1" height="9" fill="#ff0000"/>
<rect x="39" y="98" width="3" height="6" fill="#ff0000"/>
<rect x="40" y="99" width="1" height="4" fill="#ff4500"/>
<rect x="44" y="95" width="1" height="18" fill="#32cd32"/>
<rect x="43" y="98" width="3" height="3" fill="#32cd32"/>
<rect x="48" y="106" width="1" height="6" fill="#ff0000"/>
<rect x="47" y="109" width="3" height="2" fill="#ff0000"/>
<rect x="52" y="98" width="1" height="19" fill="#ff0000"/>
<rect x="51" y="100" width="3" height="11" fill="#ff0000"/>
<rect x="52" y="101" width="1" height="9" fill="#ff4500"/>
<rect x="56" y="98" width="1" height="61" fill="#32cd32"/>
<rect x="55" y="100" width="3" height="57" fill="#32cd32"/>
<rect x="60" y="146" width="1" height="21" fill="#32cd32"/>
<rect x="59" y="154" width="3" height="9" fill="#32cd32"/>
<rect x="64" y="152" width="1" height="22" fill="#ff0000"/>
<rect x="63" y="160" width="3" height="3" fill="#ff0000"/>
<rect x="64" y="161" width="1" height="1" fill="#ff4500"/>
<rect x="68" y="142" width="1" height="22" fill="#ff0000"/>
<rect x="67" y="148" width="3" height="14" fill="#ff0000"/>
<rect x="68" y="149" width="1" height="12" fill="#ff4500"/>
<rect x="72" y="141" width="1" height="3" fill="#32cd32"/>
<rect x="71" y="143" width="3" height="1" fill="#32cd32"/>
<rect x="76" y="135" width="1" height="18" fill="#ff0000"/>
<rect x="75" y="142" width="3" height="3" fill="#ff0000"/>
<rect x="76" y="143" width="1" height="1" fill="#ff4500"/>
<rect x="80" y="132" width="1" height="33" fill="#32cd32"/>
<rect x="79" y="142" width="3" height="13" fill="#32cd32"/>
<rect x="84" y="143" width="1" height="21" fill="#32cd32"/>
<rect x="83" y="154" width="3" height="7" fill="#32cd32"/>
<rect x="88" y="149" width="1" height="37" fill="#ff0000"/>
<rect x="87" y="151" width="3" height="10" fill="#ff0000"/>
<rect x="88" y="152" width="1" height="8" fill="#ff4500"/>
<rect x="92" y="149" width="1" height="7" fill="#ff0000"/>
<rect x="91" y="150" width="3" height="5" fill="#ff0000"/>
<rect x="92" y="151" width="1" height="3" fill="#ff4500"/>
<rect x="96" y="133" width="1" height="27" fill="#ff0000"/>
<rect x="95" y="135" width="3" height="17" fill="#ff0000"/>
<rect x="96" y="136" width="1" height="15" fill="#ff4500"/>
<rect x="100" y="129" width="1" height="28" fill="#ff0000"/>
<rect x="99" y="131" width="3" height="6" fill="#ff0000"/>
<rect x="100" y="132" width="1" height="4" fill="#ff4500"/>
<rect x="104" y="127" width="1" height="32" fill="#32cd32"/>
<rect x="103" y="131" width="3" height="23" fill="#32cd32"/>
<rect x="108" y="133" width="1" height="25" fill="#ff0000"/>
<rect x="107" y="135" width="3" height="19" fill="#ff0000"/>
<rect x="108" y="136" width="1" height="17" fill="#ff4500"/>
<rect x="112" y="133" width="1" height="31" fill="#32cd32"/>
<rect x="111" y="135" width="3" height="14" fill="#32cd32"/>
<rect x="116" y="146" width="1" height="4" fill="#32cd32"/>
<rect x="115" y="149" width="3" height="1" fill="#32cd32"/>
<rect x="120" y="143" width="1" height="18" fill="#ff0000"/>
<rect x="119" y="146" width="3" height="5" fill="#ff0000"/>
<rect x="120" y="147" width="1" height="3" fill="#ff4500"/>
<rect x="124" y="136" width="1" height="29" fill="#ff0000"/>
<rect x="123" y="139" width="3" height="9" fill="#ff0000"/>
<rect x="124" y="140" width="1" height="7" fill="#ff4500"/>
<rect x="128" y="100" width="1" height="44" fill="#ff0000"/>
<rect x="127" y="108" width="3" height="32" fill="#ff0000"/>
<rect x="128" y="109" width="1" height="30" fill="#ff4500"/>
<rect x="132" y="98" width="1" height="20" fill="#ff0000"/>
<rect x="131" y="100" width="3" height="10" fill="#ff0000"/>
<rect x="132" y="101" width="1" height="8" fill="#ff4500"/>
<rect x="136" y="98" width="1" height="11" fill="#32cd32"/>
<rect x="135" y="100" width="3" height="6" fill="#32cd32"/>
<rect x="140" y="109" width="1" height="5" fill="#32cd32"/>
<rect x="139" y="109" width="3" height="5" fill="#32cd32"/>
<rect x="144" y="98" width="1" height="20" fill="#ff0000"/>
<rect x="143" y="100" width="3" height="13" fill="#ff0000"/>
<rect x="144" y="101" width="1" height="11" fill="#ff4500"/>
<rect x="148" y="98" width="1" height="18" fill="#32cd32"/>
<rect x="147" y="100" width="3" height="10" fill="#32cd32"/>
<rect x="152" y="98" width="1" height="21" fill="#ff0000"/>
<rect x="151" y="100" width="3" height="11" fill="#ff0000"/>
<rect x="152" y="101" width="1" height="9" fill="#ff4500"/>
<rect x="156" y="98" width="1" height="25" fill="#32cd32"/>
<rect x="155" y="100" width="3" height="18" fill="#32cd32"/>
<rect x="160" y="98" width="1" height="21" fill="#ff0000"/>
<rect x="159" y="100" width="3" height="17" fill="#ff0000"/>
<rect x="160" y="101" width="1" height="15" fill="#ff4500"/>
<rect x="176" y="95" width="1" height="14" fill="#ff0000"/>
<rect x="175" y="98" width="3" height="3" fill="#ff0000"/>
<rect x="176" y="99" width="1" height="1" fill="#ff4500"/>
<rect x="184" y="98" width="1" height="20" fill="#32cd32"/>
<rect x="183" y="100" width="3" height="18" fill="#32cd32"/>
<rect x="188" y="109" width="1" height="5" fill="#ff0000"/>
<rect x="187" y="110" width="3" height="2" fill="#ff0000"/>
<rect x="192" y="98" width="1" height="20" fill="#ff0000"/>
<rect x="191" y="100" width="3" height="11" fill="#ff0000"/>
<rect x="192" y="101" width="1" height="9" fill="#ff4500"/>
<rect x="196" y="98" width="1" height="32" fill="#32cd32"/>
<rect x="195" y="100" width="3" height="14" fill="#32cd32"/>
<rect x="200" y="98" width="1" height="20" fill="#ff0000"/>
<rect x="199" y="100" width="3" height="14" fill="#ff0000"/>
<rect x="200" y="101" width="1" height="12" fill="#ff4500"/>
<rect x="204" y="95" width="1" height="24" fill="#ff0000"/>
<rect x="203" y="98" width="3" height="3" fill="#ff0000"/>
<rect x="204" y="99" width="1" height="1" fill="#ff4500"/>
<rect x="224" y="98" width="1" height="14" fill="#32cd32"/>
<rect x="223" y="100" width="3" height="6" fill="#32cd32"/>
<rect x="228" y="100" width="1" height="24" fill="#32cd32"/>
<rect x="227" y="105" width="3" height="5" fill="#32cd32"/>
<rect x="232" y="84" width="1" height="30" fill="#ff0000"/>
<rect x="231" y="84" width="3" height="26" fill="#ff0000"/>
<rect x="232" y="85" width="1" height="24" fill="#ff4500"/>
<rect x="236" y="85" width="1" height="5" fill="#ff0000"/>
<rect x="235" y="87" width="3" height="1" fill="#ff0000"/>
<rect x="240" y="88" width="1" height="19" fill="#32cd32"/>
<rect x="239" y="88" width="3" height="2" fill="#32cd32"/>
<rect x="244" y="73" width="1" height="20" fill="#ff0000"/>
<rect x="243" y="84" width="3" height="6" fill="#ff0000"/>
<rect x="244" y="85" width="1" height="4" fill="#ff4500"/>
<rect x="248" y="80" width="1" height="36" fill="#32cd32"/>
<rect x="247" y="83" width="3" height="28" fill="#32cd32"/>
<rect x="252" y="86" width="1" height="28" fill="#ff0000"/>
<rect x="251" y="91" width="3" height="20" fill="#ff0000"/>
<rect x="252" y="92" width="1" height="18" fill="#ff4500"/>
<rect x="256" y="86" width="1" height="26" fill="#32cd32"/>
<rect x="255" y="91" width="3" height="15" fill="#32cd32"/>
<rect x="260" y="105" width="1" height="3" fill="#32cd32"/>
<rect x="259" y="107" width="3" height="1" fill="#32cd32"/>
<rect x="264" y="95" width="1" height="22" fill="#ff0000"/>
<rect x="263" y="98" width="3" height="11" fill="#ff0000"/>
<rect x="264" y="99" width="1" height="9" fill="#ff4500"/>
<rect x="268" y="88" width="1" height="19" fill="#32cd32"/>
<rect x="267" y="98" width="3" height="1" fill="#32cd32"/>
<rect x="272" y="80" width="1" height="28" fill="#32cd32"/>
<rect x="271" y="99" width="3" height="4" fill="#32cd32"/>
<rect x="276" y="95" width="1" height="16" fill="#ff0000"/>
<rect x="275" y="101" width="3" height="3" fill="#ff0000"/>
<rect x="276" y="102" width="1" height="1" fill="#ff4500"/>
<rect x="280" y="99" width="1" height="30" fill="#32cd32"/>
<rect x="279" y="101" width="3" height="15" fill="#32cd32"/>
<rect x="284" y="112" width="1" height="4" fill="#32cd32"/>
<rect x="283" y="115" width="3" height="1" fill="#32cd32"/>
<rect x="288" y="100" width="1" height="20" fill="#ff0000"/>
<rect x="287" y="100" width="3" height="16" fill="#ff0000"/>
<rect x="288" y="101" width="1" height="14" fill="#ff4500"/>
<rect x="292" y="91" width="1" height="17" fill="#ff0000"/>
<rect x="291" y="96" width="3" height="6" fill="#ff0000"/>
<rect x="292" y="97" width="1" height="4" fill="#ff4500"/>
<rect x="296" y="89" width="1" height="25" fill="#32cd32"/>
<rect x="295" y="96" width="3" height="7" fill="#32cd32"/>
<rect x="300" y="97" width="1" height="44" fill="#32cd32"/>
<rect x="299" y="101" width="3" height="33" fill="#32cd32"/>
<rect x="304" y="100" width="1" height="39" fill="#ff0000"/>
<rect x="303" y="102" width="3" height="32" fill="#ff0000"/>
<rect x="304" y="103" width="1" height="30" fill="#ff4500"/>
<rect x="308" y="102" width="1" height="2" fill="#ff0000"/>
<rect x="307" y="103" width="3" height="1" fill="#ff0000"/>
<rect x="312" y="92" width="1" height="17" fill="#ff0000"/>
<rect x="311" y="96" width="3" height="7" fill="#ff0000"/>
<rect x="312" y="97" width="1" height="5" fill="#ff4500"/>
<rect x="316" y="93" width="1" height="14" fill="#32cd32"/>
<rect x="315" y="96" width="3" height="10" fill="#32cd32"/>
<rect x="320" y="94" width="1" height="16" fill="#32cd32"/>
<rect x="319" y="104" width="3" height="4" fill="#32cd32"/>
<rect x="324" y="93" width="1" height="20" fill="#ff0000"/>
<rect x="323" y="99" width="3" height="9" fill="#ff0000"/>
<rect x="324" y="100" width="1" height="7" fill="#ff4500"/>
<rect x="328" y="88" width="1" height="37" fill="#32cd32"/>
<rect x="327" y="99" width="3" height="19" fill="#32cd32"/>
<rect x="332" y="114" width="1" height="2" fill="#ff0000"/>
<rect x="331" y="115" width="3" height="1" fill="#ff0000"/>
<rect x="336" y="108" width="1" height="14" fill="#ff0000"/>
<rect x="335" y="113" width="3" height="3" fill="#ff0000"/>
<rect x="336" y="114" width="1" height="1" fill="#ff4500"/>
<rect x="340" y="111" width="1" height="19" fill="#32cd32"/>
<rect x="339" y="113" width="3" height="13" fill="#32cd32"/>
<rect x="344" y="111" width="1" height="46" fill="#32cd32"/>
<rect x="343" y="124" width="3" height="29" fill="#32cd32"/>
<rect x="348" y="139" width="1" height="44" fill="#32cd32"/>
<rect x="347" y="151" width="3" height="25" fill="#32cd32"/>
<rect x="352" y="172" width="1" height="34" fill="#32cd32"/>
<rect x="351" y="174" width="3" height="24" fill="#32cd32"/>
<rect x="356" y="194" width="1" height="5" fill="#ff0000"/>
<rect x="355" y="196" width="3" height="1" fill="#ff0000"/>
<rect x="360" y="178" width="1" height="28" fill="#ff0000"/>
<rect x="359" y="183" width="3" height="15" fill="#ff0000"/>
<rect x="360" y="184" width="1" height="13" fill="#ff4500"/>
<rect x="364" y="171" width="1" height="30" fill="#ff0000"/>
<rect x="363" y="176" width="3" height="9" fill="#ff0000"/>
<rect x="364" y="177" width="1" height="7" fill="#ff4500"/>
<rect x="368" y="157" width="1" height="26" fill="#ff0000"/>
<rect x="367" y="168" width="3" height="9" fill="#ff0000"/>
<rect x="368" y="169" width="1" height="7" fill="#ff4500"/>
<rect x="372" y="160" width="1" height="13" fill="#ff0000"/>
<rect x="371" y="164" width="3" height="5" fill="#ff0000"/>
<rect x="372" y="165" width="1" height="3" fill="#ff4500"/>
<rect x="376" y="151" width="1" height="15" fill="#ff0000"/>
<rect x="375" y="163" width="3" height="3" fill="#ff0000"/>
<rect x="376" y="164" width="1" height="1" fill="#ff4500"/>
<rect x="380" y="158" width="1" height="6" fill="#ff0000"/>
<rect x="379" y="159" width="3" height="5" fill="#ff0000"/>
<rect x="380" y="160" width="1" height="3" fill="#ff4500"/>
<rect x="384" y="157" width="1" height="19" fill="#32cd32"/>
<rect x="383" y="159" width="3" height="13" fill="#32cd32"/>
<rect x="388" y="169" width="1" height="25" fill="#32cd32"/>
<rect x="387" y="169" width="3" height="23" fill="#32cd32"/>
<rect x="392" y="186" width="1" height="15" fill="#32cd32"/>
<rect x="391" y="191" width="3" height="7" fill="#32cd32"/>
<rect x="396" y="193" width="1" height="21" fill="#32cd32"/>
<rect x="395" y="197" width="3" height="15" fill="#32cd32"/>
<rect x="400" y="183" width="1" height="37" fill="#ff0000"/>
<rect x="399" y="185" width="3" height="27" fill="#ff0000"/>
<rect x="400" y="186" width="1" height="25" fill="#ff4500"/>
<rect x="404" y="187" width="1" height="3" fill="#32cd32"/>
<rect x="403" y="189" width="3" height="1" fill="#32cd32"/>
<rect x="408" y="178" width="1" height="16" fill="#ff0000"/>
<rect x="407" y="180" width="3" height="10" fill="#ff0000"/>
<rect x="408" y="181" width="1" height="8" fill="#ff4500"/>
<rect x="412" y="157" width="1" height="49" fill="#32cd32"/>
<rect x="411" y="180" width="3" height="20" fill="#32cd32"/>
<rect x="416" y="183" width="1" height="30" fill="#32cd32"/>
<rect x="415" y="199" width="3" height="6" fill="#32cd32"/>
<rect x="420" y="203" width="1" height="28" fill="#32cd32"/>
<rect x="419" y="203" width="3" height="21" fill="#32cd32"/>
<rect x="424" y="200" width="1" height="33" fill="#ff0000"/>
<rect x="423" y="200" width="3" height="23" fill="#ff0000"/>
<rect x="424" y="201" width="1" height="21" fill="#ff4500"/>
<rect x="428" y="200" width="1" height="4" fill="#ff0000"/>
<rect x="427" y="200" width="3" height="1" fill="#ff0000"/>
<rect x="432" y="198" width="1" height="21" fill="#32cd32"/>
<rect x="431" y="200" width="3" height="6" fill="#32cd32"/>
<rect x="436" y="195" width="1" height="31" fill="#32cd32"/>
<rect x="435" y="205" width="3" height="17" fill="#32cd32"/>
<rect x="440" y="200" width="1" height="24" fill="#ff0000"/>
<rect x="439" y="204" width="3" height="18" fill="#ff0000"/>
<rect x="440" y="205" width="1" height="16" fill="#ff4500"/>
<rect x="444" y="202" width="1" height="30" fill="#32cd32"/>
<rect x="443" y="204" width="3" height="24" fill="#32cd32"/>
<rect x="448" y="219" width="1" height="19" fill="#32cd32"/>
<rect x="447" y="227" width="3" height="10" fill="#32cd32"/>
<rect x="452" y="237" width="1" height="5" fill="#32cd32"/>
<rect x="451" y="238" width="3" height="3" fill="#32cd32"/>
<rect x="456" y="240" width="1" height="28" fill="#32cd32"/>
<rect x="455" y="240" width="3" height="22" fill="#32cd32"/>
<rect x="460" y="252" width="1" height="25" fill="#ff0000"/>
<rect x="459" y="260" width="3" height="1" fill="#ff0000"/>
<rect x="464" y="250" width="1" height="31" fill="#ff0000"/>
<rect x="463" y="255" width="3" height="6" fill="#ff0000"/>
<rect x="464" y="256" width="1" height="4" fill="#ff4500"/>
<rect x="468" y="235" width="1" height="24" fill="#ff0000"/>
<rect x="467" y="243" width="3" height="14" fill="#ff0000"/>
<rect x="468" y="244" width="1" height="12" fill="#ff4500"/>
<rect x="472" y="240" width="1" height="14" fill="#32cd32"/>
<rect x="471" y="242" width="3" height="10" fill="#32cd32"/>
<rect x="476" y="248" width="1" height="3" fill="#ff0000"/>
<rect x="475" y="248" width="3" height="2" fill="#ff0000"/>
<rect x="480" y="239" width="1" height="26" fill="#ff0000"/>
<rect x="479" y="242" width="3" height="7" fill="#ff0000"/>
<rect x="480" y="243" width="1" height="5" fill="#ff4500"/>
<rect x="484" y="240" width="1" height="22" fill="#32cd32"/>
<rect x="483" y="242" width="3" height="8" fill="#32cd32"/>
<rect x="488" y="243" width="1" height="27" fill="#ff0000"/>
<rect x="487" y="245" width="3" height="4" fill="#ff0000"/>
<rect x="488" y="246" width="1" height="2" fill="#ff4500"/>
<rect x="492" y="230" width="1" height="23" fill="#ff0000"/>
<rect x="491" y="237" width="3" height="9" fill="#ff0000"/>
<rect x="492" y="238" width="1" height="7" fill="#ff4500"/>
<rect x="496" y="234" width="1" height="31" fill="#32cd32"/>
<rect x="495" y="237" width="3" height="26" fill="#32cd32"/>
<rect x="500" y="257" width="1" height="4" fill="#32cd32"/>
<rect x="499" y="257" width="3" height="2" fill="#32cd32"/>
<rect x="504" y="242" width="1" height="23" fill="#ff0000"/>
<rect x="503" y="250" width="3" height="10" fill="#ff0000"/>
<rect x="504" y="251" width="1" height="8" fill="#ff4500"/>
<rect x="508" y="232" width="1" height="22" fill="#ff0000"/>
<rect x="507" y="237" width="3" height="15" fill="#ff0000"/>
<rect x="508" y="238" width="1" height="13" fill="#ff4500"/>
<rect x="512" y="225" width="1" height="24" fill="#32cd32"/>
<rect x="511" y="237" width="3" height="7" fill="#32cd32"/>
<rect x="516" y="229" width="1" height="18" fill="#ff0000"/>
<rect x="515" y="234" width="3" height="10" fill="#ff0000"/>
<rect x="516" y="235" width="1" height="8" fill="#ff4500"/>
<rect x="520" y="234" width="1" height="24" fill="#32cd32"/>
<rect x="519" y="234" width="3" height="23" fill="#32cd32"/>
<rect x="524" y="259" width="1" height="6" fill="#32cd32"/>
<rect x="523" y="259" width="3" height="3" fill="#32cd32"/>
<rect x="528" y="250" width="1" height="16" fill="#32cd32"/>
<rect x="527" y="261" width="3" height="4" fill="#32cd32"/>
<rect x="532" y="253" width="1" height="17" fill="#ff0000"/>
<rect x="531" y="258" width="3" height="7" fill="#ff0000"/>
<rect x="532" y="259" width="1" height="5" fill="#ff4500"/>
<rect x="536" y="240" width="1" height="28" fill="#ff0000"/>
<rect x="535" y="247" width="3" height="11" fill="#ff0000"/>
<rect x="536" y="248" width="1" height="9" fill="#ff4500"/>
<rect x="540" y="246" width="1" height="18" fill="#32cd32"/>
<rect x="539" y="247" width="3" height="13" fill="#32cd32"/>
<rect x="544" y="243" width="1" height="21" fill="#ff0000"/>
<rect x="543" y="246" width="3" height="14" fill="#ff0000"/>
<rect x="544" y="247" width="1" height="12" fill="#ff4500"/>
<rect x="548" y="247" width="1" height="5" fill="#32cd32"/>
<rect x="547" y="247" width="3" height="3" fill="#32cd32"/>
<rect x="552" y="248" width="1" height="21" fill="#32cd32"/>
<rect x="551" y="249" width="3" height="11" fill="#32cd32"/>
<rect x="556" y="259" width="1" height="39" fill="#32cd32"/>
<rect x="555" y="259" width="3" height="34" fill="#32cd32"/>
<rect x="560" y="287" width="1" height="18" fill="#32cd32"/>
<rect x="559" y="292" width="3" height="11" fill="#32cd32"/>
<rect x="564" y="301" width="1" height="37" fill="#32cd32"/>
<rect x="563" y="301" width="3" height="35" fill="#32cd32"/>
<rect x="568" y="331" width="1" height="20" fill="#32cd32"/>
<rect x="567" y="335" width="3" height="5" fill="#32cd32"/>
<rect x="572" y="337" width="1" height="4" fill="#ff0000"/>
<rect x="571" y="338" width="3" height="1" fill="#ff0000"/>
<rect x="576" y="307" width="1" height="32" fill="#ff0000"/>
<rect x="575" y="311" width="3" height="28" fill="#ff0000"/>
<rect x="576" y="312" width="1" height="26" fill="#ff4500"/>
<rect x="580" y="285" width="1" height="31" fill="#ff0000"/>
<rect x="579" y="295" width="3" height="17" fill="#ff0000"/>
<rect x="580" y="296" width="1" height="15" fill="#ff4500"/>
<rect x="584" y="282" width="1" height="19" fill="#ff0000"/>
<rect x="583" y="284" width="3" height="12" fill="#ff0000"/>
<rect x="584" y="285" width="1" height="10" fill="#ff4500"/>
<rect x="588" y="283" width="1" height="20" fill="#32cd32"/>
<rect x="587" y="284" width="3" height="16" fill="#32cd32"/>
<rect x="592" y="268" width="1" height="39" fill="#ff0000"/>
<rect x="591" y="270" width="3" height="30" fill="#ff0000"/>
<rect x="592" y="271" width="1" height="28" fill="#ff4500"/>
<rect x="596" y="268" width="1" height="5" fill="#ff0000"/>
<rect x="595" y="269" width="3" height="3" fill="#ff0000"/>
<rect x="596" y="270" width="1" height="1" fill="#ff4500"/>
<rect x="600" y="267" width="1" height="15" fill="#32cd32"/>
<rect x="599" y="269" width="3" height="12" fill="#32cd32"/>
<rect x="604" y="259" width="1" height="21" fill="#ff0000"/>
<rect x="603" y="268" width="3" height="12" fill="#ff0000"/>
<rect x="604" y="269" width="1" height="10" fill="#ff4500"/>
<rect x="608" y="242" width="1" height="32" fill="#ff0000"/>
<rect x="607" y="249" width="3" height="20" fill="#ff0000"/>
<rect x="608" y="250" width="1" height="18" fill="#ff4500"/>
<rect x="612" y="232" width="1" height="23" fill="#ff0000"/>
<rect x="611" y="236" width="3" height="14" fill="#ff0000"/>
<rect x="612" y="237" width="1" height="12" fill="#ff4500"/>
<rect x="616" y="205" width="1" height="34" fill="#ff0000"/>
<rect x="615" y="213" width="3" height="24" fill="#ff0000"/>
<rect x="616" y="214" width="1" height="22" fill="#ff4500"/>
<rect x="620" y="215" width="1" height="5" fill="#32cd32"/>
<rect x="619" y="216" width="3" height="4" fill="#32cd32"/>
<rect x="624" y="218" width="1" height="9" fill="#32cd32"/>
<rect x="623" y="218" width="3" height="4" fill="#32cd32"/>
<rect x="628" y="209" width="1" height="38" fill="#32cd32"/>
<rect x="627" y="221" width="3" height="21" fill="#32cd32"/>
<rect x="632" y="234" width="1" height="24" fill="#32cd32"/>
<rect x="631" y="241" width="3" height="12" fill="#32cd32"/>
<rect x="636" y="238" width="1" height="19" fill="#ff0000"/>
<rect x="635" y="248" width="3" height="5" fill="#ff0000"/>
<rect x="636" y="249" width="1" height="3" fill="#ff4500"/>
<rect x="640" y="232" width="1" height="20" fill="#32cd32"/>
<rect x="639" y="248" width="3" height="3" fill="#32cd32"/>
<rect x="644" y="248" width="1" height="3" fill="#32cd32"/>
<rect x="643" y="248" width="3" height="2" fill="#32cd32"/>
<rect x="648" y="245" width="1" height="16" fill="#32cd32"/>
<rect x="647" y="249" width="3" height="1" fill="#32cd32"/>
<rect x="652" y="246" width="1" height="25" fill="#32cd32"/>
<rect x="651" y="249" width="3" height="20" fill="#32cd32"/>
<rect x="656" y="259" width="1" height="17" fill="#ff0000"/>
<rect x="655" y="259" width="3" height="10" fill="#ff0000"/>
<rect x="656" y="260" width="1" height="8" fill="#ff4500"/>
<rect x="660" y="256" width="1" height="31" fill="#32cd32"/>
<rect x="659" y="259" width="3" height="20" fill="#32cd32"/>
<rect x="664" y="266" width="1" height="23" fill="#32cd32"/>
<rect x="663" y="278" width="3" height="9" fill="#32cd32"/>
<rect x="668" y="288" width="1" height="4" fill="#32cd32"/>
<rect x="667" y="289" width="3" height="1" fill="#32cd32"/>
<rect x="672" y="287" width="1" height="21" fill="#32cd32"/>
<rect x="671" y="289" width="3" height="3" fill="#32cd32"/>
<rect x="676" y="281" width="1" height="25" fill="#32cd32"/>
<rect x="675" y="291" width="3" height="13" fill="#32cd32"/>
<rect x="680" y="276" width="1" height="29" fill="#ff0000"/>
<rect x="679" y="301" width="3" height="4" fill="#ff0000"/>
<rect x="680" y="302" width="1" height="2" fill="#ff4500"/>
<rect x="684" y="269" width="1" height="37" fill="#ff0000"/>
<rect x="683" y="276" width="3" height="26" fill="#ff0000"/>
<rect x="684" y="277" width="1" height="24" fill="#ff4500"/>
<rect x="688" y="268" width="1" height="33" fill="#32cd32"/>
<rect x="687" y="276" width="3" height="17" fill="#32cd32"/>
<rect x="692" y="287" width="1" height="4" fill="#ff0000"/>
<rect x="691" y="289" width="3" height="2" fill="#ff0000"/>
<rect x="696" y="277" width="1" height="19" fill="#ff0000"/>
<rect x="695" y="282" width="3" height="7" fill="#ff0000"/>
<rect x="696" y="283" width="1" height="5" fill="#ff4500"/>
<rect x="700" y="270" width="1" height="35" fill="#32cd32"/>
<rect x="699" y="282" width="3" height="17" fill="#32cd32"/>
<rect x="704" y="289" width="1" height="37" fill="#32cd32"/>
<rect x="703" y="297" width="3" height="26" fill="#32cd32"/>
<rect x="708" y="290" width="1" height="35" fill="#ff0000"/>
<rect x="707" y="303" width="3" height="20" fill="#ff0000"/>
<rect x="708" y="304" width="1" height="18" fill="#ff4500"/>
<rect x="712" y="284" width="1" height="35" fill="#ff0000"/>
<rect x="711" y="288" width="3" height="16" fill="#ff0000"/>
<rect x="712" y="289" width="1" height="14" fill="#ff4500"/>
<rect x="716" y="283" width="1" height="3" fill="#32cd32"/>
<rect x="715" y="285" width="3" height="1" fill="#32cd32"/>
<rect x="720" y="273" width="1" height="23" fill="#ff0000"/>
<rect x="719" y="279" width="3" height="7" fill="#ff0000"/>
<rect x="720" y="280" width="1" height="5" fill="#ff4500"/>
<rect x="724" y="274" width="1" height="23" fill="#32cd32"/>
<rect x="723" y="279" width="3" height="2" fill="#32cd32"/>
<rect x="728" y="278" width="1" height="27" fill="#32cd32"/>
<rect x="727" y="280" width="3" height="3" fill="#32cd32"/>
<rect x="732" y="265" width="1" height="22" fill="#ff0000"/>
<rect x="731" y="268" width="3" height="15" fill="#ff0000"/>
<rect x="732" y="269" width="1" height="13" fill="#ff4500"/>
<rect x="736" y="260" width="1" height="21" fill="#32cd32"/>
<rect x="735" y="268" width="3" height="2" fill="#32cd32"/>
<rect x="740" y="273" width="1" height="6" fill="#32cd32"/>
<rect x="739" y="273" width="3" height="4" fill="#32cd32"/>
<rect x="744" y="246" width="1" height="32" fill="#ff0000"/>
<rect x="743" y="256" width="3" height="22" fill="#ff0000"/>
<rect x="744" y="257" width="1" height="20" fill="#ff4500"/>
<rect x="748" y="242" width="1" height="21" fill="#32cd32"/>
<rect x="747" y="256" width="3" height="7" fill="#32cd32"/>
<rect x="752" y="242" width="1" height="24" fill="#ff0000"/>
<rect x="751" y="242" width="3" height="20" fill="#ff0000"/>
<rect x="752" y="243" width="1" height="18" fill="#ff4500"/>
<rect x="756" y="225" width="1" height="23" fill="#ff0000"/>
<rect x="755" y="230" width="3" height="13" fill="#ff0000"/>
<rect x="756" y="231" width="1" height="11" fill="#ff4500"/>
<rect x="760" y="220" width="1" height="15" fill="#ff0000"/>
<rect x="759" y="228" width="3" height="4" fill="#ff0000"/>
<rect x="760" y="229" width="1" height="2" fill="#ff4500"/>
<rect x="764" y="224" width="1" height="4" fill="#ff0000"/>
<rect x="763" y="226" width="3" height="2" fill="#ff0000"/>
<rect x="768" y="226" width="1" height="20" fill="#32cd32"/>
<rect x="767" y="226" width="3" height="6" fill="#32cd32"/>
<rect x="772" y="202" width="1" height="29" fill="#ff0000"/>
<rect x="771" y="206" width="3" height="25" fill="#ff0000"/>
<rect x="772" y="207" width="1" height="23" fill="#ff4500"/>
<rect x="776" y="187" width="1" height="25" fill="#ff0000"/>
<rect x="775" y="190" width="3" height="17" fill="#ff0000"/>
<rect x="776" y="191" width="1" height="15" fill="#ff4500"/>
<rect x="780" y="178" width="1" height="37" fill="#32cd32"/>
<rect x="779" y="190" width="3" height="22" fill="#32cd32"/>
<rect x="784" y="192" width="1" height="24" fill="#ff0000"/>
<rect x="783" y="210" width="3" height="2" fill="#ff0000"/>
<rect x="788" y="208" width="1" height="5" fill="#32cd32"/>
<rect x="787" y="208" width="3" height="3" fill="#32cd32"/>
<rect x="792" y="194" width="1" height="18" fill="#ff0000"/>
<rect x="791" y="200" width="3" height="10" fill="#ff0000"/>
<rect x="792" y="201" width="1" height="8" fill="#ff4500"/>
<rect x="796" y="186" width="1" height="17" fill="#ff0000"/>
<rect x="795" y="191" width="3" height="10" fill="#ff0000"/>
<rect x="796" y="192" width="1" height="8" fill="#ff4500"/>
<rect x="800" y="182" width="1" height="21" fill="#32cd32"/>
<rect x="799" y="192" width="3" height="5" fill="#32cd32"/>
<rect x="804" y="177" width="1" height="29" fill="#ff0000"/>
<rect x="803" y="184" width="3" height="13" fill="#ff0000"/>
<rect x="804" y="185" width="1" height="11" fill="#ff4500"/>
<rect x="808" y="175" width="1" height="23" fill="#32cd32"/>
<rect x="807" y="184" width="3" height="3" fill="#32cd32"/>
<rect x="812" y="189" width="1" height="5" fill="#ff0000"/>
<rect x="811" y="189" width="3" height="3" fill="#ff0000"/>
<rect x="812" y="190" width="1" height="1" fill="#ff4500"/>
<rect x="816" y="182" width="1" height="21" fill="#ff0000"/>
<rect x="815" y="188" width="3" height="2" fill="#ff0000"/>
<rect x="820" y="184" width="1" height="46" fill="#32cd32"/>
<rect x="819" y="188" width="3" height="35" fill="#32cd32"/>
<rect x="824" y="208" width="1" height="24" fill="#ff0000"/>
<rect x="823" y="209" width="3" height="14" fill="#ff0000"/>
<rect x="824" y="210" width="1" height="12" fill="#ff4500"/>
<rect x="828" y="208" width="1" height="36" fill="#32cd32"/>
<rect x="827" y="208" width="3" height="26" fill="#32cd32"/>
<rect x="832" y="231" width="1" height="21" fill="#32cd32"/>
<rect x="831" y="232" width="3" height="7" fill="#32cd32"/>
<rect x="836" y="235" width="1" height="3" fill="#32cd32"/>
<rect x="835" y="237" width="3" height="1" fill="#32cd32"/>
<rect x="840" y="223" width="1" height="21" fill="#ff0000"/>
<rect x="839" y="230" width="3" height="9" fill="#ff0000"/>
<rect x="840" y="231" width="1" height="7" fill="#ff4500"/>
<rect x="844" y="223" width="1" height="29" fill="#32cd32"/>
<rect x="843" y="230" width="3" height="16" fill="#32cd32"/>
<rect x="848" y="238" width="1" height="29" fill="#32cd32"/>
<rect x="847" y="245" width="3" height="17" fill="#32cd32"/>
<rect x="852" y="259" width="1" height="22" fill="#32cd32"/>
<rect x="851" y="262" width="3" height="17" fill="#32cd32"/>
<rect x="856" y="261" width="1" height="24" fill="#ff0000"/>
<rect x="855" y="263" width="3" height="16" fill="#ff0000"/>
<rect x="856" y="264" width="1" height="14" fill="#ff4500"/>
<rect x="860" y="261" width="1" height="3" fill="#ff0000"/>
<rect x="859" y="263" width="3" height="1" fill="#ff0000"/>
<rect x="864" y="247" width="1" height="20" fill="#ff0000"/>
<rect x="863" y="257" width="3" height="6" fill="#ff0000"/>
<rect x="864" y="258" width="1" height="4" fill="#ff4500"/>
<rect x="868" y="248" width="1" height="31" fill="#32cd32"/>
<rect x="867" y="257" width="3" height="18" fill="#32cd32"/>
<rect x="872" y="273" width="1" height="19" fill="#32cd32"/>
<rect x="871" y="274" width="3" height="14" fill="#32cd32"/>
<rect x="876" y="277" width="1" height="18" fill="#ff0000"/>
<rect x="875" y="284" width="3" height="4" fill="#ff0000"/>
<rect x="876" y="285" width="1" height="2" fill="#ff4500"/>
<rect x="880" y="278" width="1" height="26" fill="#32cd32"/>
<rect x="879" y="284" width="3" height="17" fill="#32cd32"/>
<rect x="884" y="300" width="1" height="5" fill="#ff0000"/>
<rect x="883" y="302" width="3" height="1" fill="#ff0000"/>
<rect x="888" y="285" width="1" height="22" fill="#32cd32"/>
<rect x="887" y="301" width="3" height="3" fill="#32cd32"/>
<rect x="892" y="300" width="1" height="12" fill="#32cd32"/>
<rect x="891" y="303" width="3" height="3" fill="#32cd32"/>
<rect x="896" y="303" width="1" height="18" fill="#32cd32"/>
<rect x="895" y="305" width="3" height="9" fill="#32cd32"/>
<rect x="900" y="310" width="1" height="15" fill="#32cd32"/>
<rect x="899" y="313" width="3" height="12" fill="#32cd32"/>
<rect x="904" y="323" width="1" height="26" fill="#32cd32"/>
<rect x="903" y="324" width="3" height="23" fill="#32cd32"/>
<rect x="908" y="335" width="1" height="12" fill="#ff0000"/>
<rect x="907" y="337" width="3" height="10" fill="#ff0000"/>
<rect x="908" y="338" width="1" height="8" fill="#ff4500"/>
<rect x="912" y="330" width="1" height="19" fill="#ff0000"/>
<rect x="911" y="335" width="3" height="2" fill="#ff0000"/>
<rect x="916" y="325" width="1" height="44" fill="#32cd32"/>
<rect x="915" y="335" width="3" height="9" fill="#32cd32"/>
<rect x="920" y="325" width="1" height="31" fill="#32cd32"/>
<rect x="919" y="343" width="3" height="9" fill="#32cd32"/>
<rect x="924" y="345" width="1" height="15" fill="#32cd32"/>
<rect x="923" y="350" width="3" height="9" fill="#32cd32"/>
<rect x="928" y="357" width="1" height="37" fill="#32cd32"/>
<rect x="927" y="358" width="3" height="36" fill="#32cd32"/>
</g>
<rect x="6" y="25" width="221" height="78" fill="#fff"/>
<rect x="3" y="434" width="3" height="5" fill="#c0c0c0"/>
<rect x="7" y="434" width="3" height="5" fill="#c0c0c0"/>
<rect x="11" y="434" width="3" height="5" fill="#c0c0c0"/>
<rect x="15" y="434" width="3" height="4" fill="#c0c0c0"/>
<rect x="19" y="434" width="3" height="2" fill="#c0c0c0"/>
<rect x="23" y="434" width="3" height="2" fill="#c0c0c0"/>
<rect x="27" y="434" width="3" height="2" fill="#c0c0c0"/>
<rect x="31" y="433" width="3" height="1" fill="#dcdcdc"/>
<rect x="35" y="433" width="3" height="1" fill="#dcdcdc"/>
<rect x="39" y="433" width="3" height="1" fill="#dcdcdc"/>
<rect x="55" y="434" width="3" height="7" fill="#c0c0c0"/>
<rect x="59" y="434" width="3" height="11" fill="#c0c0c0"/>
<rect x="63" y="434" width="3" height="14" fill="#c0c0c0"/>
<rect x="67" y="434" width="3" height="16" fill="#c0c0c0"/>
<rect x="71" y="434" width="3" height="16" fill="#c0c0c0"/>
<rect x="75" y="434" width="3" height="17" fill="#c0c0c0"/>
<rect x="79" y="434" width="3" height="18" fill="#c0c0c0"/>
<rect x="83" y="434" width="3" height="19" fill="#c0c0c0"/>
<rect x="87" y="434" width="3" height="19" fill="#c0c0c0"/>
<rect x="91" y="434" width="3" height="17" fill="#c0c0c0"/>
<rect x="95" y="434" width="3" height="16" fill="#c0c0c0"/>
<rect x="99" y="434" width="3" height="14" fill="#c0c0c0"/>
<rect x="103" y="434" width="3" height="14" fill="#c0c0c0"/>
<rect x="107" y="434" width="3" height="13" fill="#c0c0c0"/>
<rect x="111" y="434" width="3" height="13" fill="#c0c0c0"/>
<rect x="115" y="434" width="3" height="13" fill="#c0c0c0"/>
<rect x="119" y="434" width="3" height="12" fill="#c0c0c0"/>
<rect x="123" y="434" width="3" height="11" fill="#c0c0c0"/>
<rect x="127" y="434" width="3" height="7" fill="#c0c0c0"/>
<rect x="131" y="434" width="3" height="3" fill="#c0c0c0"/>
<rect x="135" y="434" width="3" height="1" fill="#dcdcdc"/>
<rect x="139" y="432" width="3" height="2" fill="#c0c0c0"/>
<rect x="143" y="430" width="3" height="4" fill="#c0c0c0"/>
<rect x="147" y="429" width="3" height="5" fill="#c0c0c0"/>
<rect x="151" y="427" width="3" height="7" fill="#c0c0c0"/>
<rect x="155" y="428" width="3" height="6" fill="#c0c0c0"/>
<rect x="159" y="427" width="3" height="7" fill="#c0c0c0"/>
<rect x="163" y="426" width="3" height="8" fill="#c0c0c0"/>
<rect x="167" y="424" width="3" height="10" fill="#c0c0c0"/>
<rect x="171" y="423" width="3" height="11" fill="#c0c0c0"/>
<rect x="175" y="422" width="3" height="12" fill="#c0c0c0"/>
<rect x="179" y="422" width="3" height="12" fill="#c0c0c0"/>
<rect x="183" y="424" width="3" height="10" fill="#c0c0c0"/>
<rect x="187" y="426" width="3" height="8" fill="#c0c0c0"/>
<rect x="191" y="426" width="3" height="8" fill="#c0c0c0"/>
<rect x="195" y="428" width="3" height="6" fill="#c0c0c0"/>
<rect x="199" y="428" width="3" height="6" fill="#c0c0c0"/>
<rect x="203" y="426" width="3" height="8" fill="#c0c0c0"/>
<rect x="207" y="423" width="3" height="11" fill="#c0c0c0"/>
<rect x="211" y="421" width="3" height="13" fill="#c0c0c0"/>
<rect x="215" y="420" width="3" height="14" fill="#c0c0c0"/>
<rect x="219" y="419" width="3" height="15" fill="#c0c0c0"/>
<rect x="223" y="422" width="3" height="12" fill="#c0c0c0"/>
<rect x="227" y="424" width="3" height="10" fill="#c0c0c0"/>
<rect x="231" y="426" width="3" height="8" fill="#c0c0c0"/>
<rect x="235" y="426" width="3" height="8" fill="#c0c0c0"/>
<rect x="239" y="427" width="3" height="7" fill="#c0c0c0"/>
<rect x="243" y="427" width="3" height="7" fill="#c0c0c0"/>
<rect x="247" y="430" width="3" height="4" fill="#c0c0c0"/>
<rect x="251" y="430" width="3" height="4" fill="#c0c0c0"/>
<rect x="255" y="432" width="3" height="2" fill="#c0c0c0"/>
<rect x="259" y="433" width="3" height="1" fill="#dcdcdc"/>
<rect x="263" y="434" width="3" height="1" fill="#dcdcdc"/>
<rect x="267" y="434" width="3" height="1" fill="#dcdcdc"/>
<rect x="271" y="434" width="3" height="1" fill="#dcdcdc"/>
<rect x="275" y="434" width="3" height="2" fill="#c0c0c0"/>
<rect x="279" y="434" width="3" height="3" fill="#c0c0c0"/>
<rect x="283" y="434" width="3" height="4" fill="#c0c0c0"/>
<rect x="287" y="434" width="3" height="4" fill="#c0c0c0"/>
<rect x="291" y="434" width="3" height="3" fill="#c0c0c0"/>
<rect x="295" y="434" width="3" height="3" fill="#c0c0c0"/>
<rect x="299" y="434" width="3" height="6" fill="#c0c0c0"/>
<rect x="303" y="434" width="3" height="5" fill="#c0c0c0"/>
<rect x="307" y="434" width="3" height="3" fill="#c0c0c0"/>
<rect x="311" y="434" width="3" height="3" fill="#c0c0c0"/>
<rect x="315" y="434" width="3" height="3" fill="#c0c0c0"/>
<rect x="319" y="434" width="3" height="3" fill="#c0c0c0"/>
<rect x="323" y="434" width="3" height="3" fill="#c0c0c0"/>
<rect x="327" y="434" width="3" height="4" fill="#c0c0c0"/>
<rect x="331" y="434" width="3" height="5" fill="#c0c0c0"/>
<rect x="335" y="434" width="3" height="5" fill="#c0c0c0"/>
<rect x="339" y="434" width="3" height="6" fill="#c0c0c0"/>
<rect x="343" y="434" width="3" height="9" fill="#c0c0c0"/>
<rect x="347" y="434" width="3" height="14" fill="#c0c0c0"/>
<rect x="351" y="434" width="3" height="20" fill="#c0c0c0"/>
<rect x="355" y="434" width="3" height="24" fill="#c0c0c0"/>
<rect x="359" y="434" width="3" height="25" fill="#c0c0c0"/>
<rect x="363" y="434" width="3" height="26" fill="#c0c0c0"/>
<rect x="367" y="434" width="3" height="25" fill="#c0c0c0"/>
<rect x="371" y="434" width="3" height="24" fill="#c0c0c0"/>
<rect x="375" y="434" width="3" height="23" fill="#c0c0c0"/>
<rect x="379" y="434" width="3" height="22" fill="#c0c0c0"/>
<rect x="383" y="434" width="3" height="22" fill="#c0c0c0"/>
<rect x="387" y="434" width="3" height="23" fill="#c0c0c0"/>
<rect x="391" y="434" width="3" height="23" fill="#c0c0c0"/>
<rect x="395" y="434" width="3" height="25" fill="#c0c0c0"/>
<rect x="399" y="434" width="3" height="24" fill="#c0c0c0"/>
<rect x="403" y="434" width="3" height="24" fill="#c0c0c0"/>
<rect x="407" y="434" width="3" height="23" fill="#c0c0c0"/>
<rect x="411" y="434" width="3" height="23" fill="#c0c0c0"/>
<rect x="415" y="434" width="3" height="23" fill="#c0c0c0"/>
<rect x="419" y="434" width="3" height="24" fill="#c0c0c0"/>
<rect x="423" y="434" width="3" height="24" fill="#c0c0c0"/>
<rect x="427" y="434" width="3" height="23" fill="#c0c0c0"/>
<rect x="431" y="434" width="3" height="23" fill="#c0c0c0"/>
<rect x="435" y="434" width="3" height="23" fill="#c0c0c0"/>
<rect x="439" y="434" width="3" height="23" fill="#c0c0c0"/>
<rect x="443" y="434" width="3" height="23" fill="#c0c0c0"/>
<rect x="447" y="434" width="3" height="24" fill="#c0c0c0"/>
<rect x="451" y="434" width="3" height="25" fill="#c0c0c0"/>
<rect x="455" y="434" width="3" height="27" fill="#c0c0c0"/>
<rect x="459" y="434" width="3" height="29" fill="#c0c0c0"/>
<rect x="463" y="434" width="3" height="29" fill="#c0c0c0"/>
<rect x="467" y="434" width="3" height="28" fill="#c0c0c0"/>
<rect x="471" y="434" width="3" height="28" fill="#c0c0c0"/>
<rect x="475" y="434" width="3" height="26" fill="#c0c0c0"/>
<rect x="479" y="434" width="3" height="26" fill="#c0c0c0"/>
<rect x="483" y="434" width="3" height="25" fill="#c0c0c0"/>
<rect x="487" y="434" width="3" height="23" fill="#c0c0c0"/>
<rect x="491" y="434" width="3" height="21" fill="#c0c0c0"/>
<rect x="495" y="434" width="3" height="22" fill="#c0c0c0"/>
<rect x="499" y="434" width="3" height="22" fill="#c0c0c0"/>
<rect x="503" y="434" width="3" height="21" fill="#c0c0c0"/>
<rect x="507" y="434" width="3" height="18" fill="#c0c0c0"/>
<rect x="511" y="434" width="3" height="17" fill="#c0c0c0"/>
<rect x="515" y="434" width="3" height="15" fill="#c0c0c0"/>
<rect x="519" y="434" width="3" height="15" fill="#c0c0c0"/>
<rect x="523" y="434" width="3" height="15" fill="#c0c0c0"/>
<rect x="527" y="434" width="3" height="16" fill="#c0c0c0"/>
<rect x="531" y="434" width="3" height="16" fill="#c0c0c0"/>
<rect x="535" y="434" width="3" height="15" fill="#c0c0c0"/>
<rect x="539" y="434" width="3" height="14" fill="#c0c0c0"/>
<rect x="543" y="434" width="3" height="12" fill="#c0c0c0"/>
<rect x="547" y="434" width="3" height="11" fill="#c0c0c0"/>
<rect x="551" y="434" width="3" height="11" fill="#c0c0c0"/>
<rect x="555" y="434" width="3" height="13" fill="#c0c0c0"/>
<rect x="559" y="434" width="3" height="17" fill="#c0c0c0"/>
<rect x="563" y="434" width="3" height="23" fill="#c0c0c0"/>
<rect x="567" y="434" width="3" height="27" fill="#c0c0c0"/>
<rect x="571" y="434" width="3" height="30" fill="#c0c0c0"/>
<rect x="575" y="434" width="3" height="29" fill="#c0c0c0"/>
<rect x="579" y="434" width="3" height="27" fill="#c0c0c0"/>
<rect x="583" y="434" width="3" height="24" fill="#c0c0c0"/>
<rect x="587" y="434" width="3" height="23" fill="#c0c0c0"/>
<rect x="591" y="434" width="3" height="19" fill="#c0c0c0"/>
<rect x="595" y="434" width="3" height="15" fill="#c0c0c0"/>
<rect x="599" y="434" width="3" height="14" fill="#c0c0c0"/>
<rect x="603" y="434" width="3" height="11" fill="#c0c0c0"/>
<rect x="607" y="434" width="3" height="7" fill="#c0c0c0"/>
<rect x="611" y="434" width="3" height="3" fill="#c0c0c0"/>
<rect x="615" y="430" width="3" height="4" fill="#c0c0c0"/>
<rect x="619" y="427" width="3" height="7" fill="#c0c0c0"/>
<rect x="623" y="424" width="3" height="10" fill="#c0c0c0"/>
<rect x="627" y="424" width="3" height="10" fill="#c0c0c0"/>
<rect x="631" y="425" width="3" height="9" fill="#c0c0c0"/>
<rect x="635" y="425" width="3" height="9" fill="#c0c0c0"/>
<rect x="639" y="426" width="3" height="8" fill="#c0c0c0"/>
<rect x="643" y="427" width="3" height="7" fill="#c0c0c0"/>
<rect x="647" y="427" width="3" height="7" fill="#c0c0c0"/>
<rect x="651" y="429" width="3" height="5" fill="#c0c0c0"/>
<rect x="655" y="430" width="3" height="4" fill="#c0c0c0"/>
<rect x="659" y="433" width="3" height="1" fill="#dcdcdc"/>
<rect x="663" y="434" width="3" height="3" fill="#c0c0c0"/>
<rect x="667" y="434" width="3" height="5" fill="#c0c0c0"/>
<rect x="671" y="434" width="3" height="7" fill="#c0c0c0"/>
<rect x="675" y="434" width="3" height="10" fill="#c0c0c0"/>
<rect x="679" y="434" width="3" height="11" fill="#c0c0c0"/>
<rect x="683" y="434" width="3" height="10" fill="#c0c0c0"/>
<rect x="687" y="434" width="3" height="11" fill="#c0c0c0"/>
<rect x="691" y="434" width="3" height="11" fill="#c0c0c0"/>
<rect x="695" y="434" width="3" height="10" fill="#c0c0c0"/>
<rect x="699" y="434" width="3" height="11" fill="#c0c0c0"/>
<rect x="703" y="434" width="3" height="14" fill="#c0c0c0"/>
<rect x="707" y="434" width="3" height="14" fill="#c0c0c0"/>
<rect x="711" y="434" width="3" height="13" fill="#c0c0c0"/>
<rect x="715" y="434" width="3" height="11" fill="#c0c0c0"/>
<rect x="719" y="434" width="3" height="9" fill="#c0c0c0"/>
<rect x="723" y="434" width="3" height="8" fill="#c0c0c0"/>
<rect x="727" y="434" width="3" height="7" fill="#c0c0c0"/>
<rect x="731" y="434" width="3" height="5" fill="#c0c0c0"/>
<rect x="735" y="434" width="3" height="3" fill="#c0c0c0"/>
<rect x="739" y="434" width="3" height="3" fill="#c0c0c0"/>
<rect x="743" y="433" width="3" height="1" fill="#dcdcdc"/>
<rect x="747" y="432" width="3" height="2" fill="#c0c0c0"/>
<rect x="751" y="429" width="3" height="5" fill="#c0c0c0"/>
<rect x="755" y="426" width="3" height="8" fill="#c0c0c0"/>
<rect x="759" y="423" width="3" height="11" fill="#c0c0c0"/>
<rect x="763" y="421" width="3" height="13" fill="#c0c0c0"/>
<rect x="767" y="420" width="3" height="14" fill="#c0c0c0"/>
<rect x="771" y="417" width="3" height="17" fill="#c0c0c0"/>
<rect x="775" y="414" width="3" height="20" fill="#c0c0c0"/>
<rect x="779" y="413" width="3" height="21" fill="#c0c0c0"/>
<rect x="783" y="413" width="3" height="21" fill="#c0c0c0"/>
<rect x="787" y="413" width="3" height="21" fill="#c0c0c0"/>
<rect x="791" y="412" width="3" height="22" fill="#c0c0c0"/>
<rect x="795" y="411" width="3" height="23" fill="#c0c0c0"/>
<rect x="799" y="411" width="3" height="23" fill="#c0c0c0"/>
<rect x="803" y="410" width="3" height="24" fill="#c0c0c0"/>
<rect x="807" y="410" width="3" height="24" fill="#c0c0c0"/>
<rect x="811" y="410" width="3" height="24" fill="#c0c0c0"/>
<rect x="815" y="410" width="3" height="24" fill="#c0c0c0"/>
<rect x="819" y="414" width="3" height="20" fill="#c0c0c0"/>
<rect x="823" y="416" width="3" height="18" fill="#c0c0c0"/>
<rect x="827" y="420" width="3" height="14" fill="#c0c0c0"/>
<rect x="831" y="424" width="3" height="10" fill="#c0c0c0"/>
<rect x="835" y="427" width="3" height="7" fill="#c0c0c0"/>
<rect x="839" y="428" width="3" height="6" fill="#c0c0c0"/>
<rect x="843" y="431" width="3" height="3" fill="#c0c0c0"/>
<rect x="847" y="434" width="3" height="2" fill="#c0c0c0"/>
<rect x="851" y="434" width="3" height="6" fill="#c0c0c0"/>
<rect x="855" y="434" width="3" height="8" fill="#c0c0c0"/>
<rect x="859" y="434" width="3" height="10" fill="#c0c0c0"/>
<rect x="863" y="434" width="3" height="10" fill="#c0c0c0"/>
<rect x="867" y="434" width="3" height="12" fill="#c0c0c0"/>
<rect x="871" y="434" width="3" height="15" fill="#c0c0c0"/>
<rect x="875" y="434" width="3" height="16" fill="#c0c0c0"/>
<rect x="879" y="434" width="3" height="19" fill="#c0c0c0"/>
<rect x="883" y="434" width="3" height="21" fill="#c0c0c0"/>
<rect x="887" y="434" width="3" height="22" fill="#c0c0c0"/>
<rect x="891" y="434" width="3" height="23" fill="#c0c0c0"/>
<rect x="895" y="434" width="3" height="24" fill="#c0c0c0"/>
<rect x="899" y="434" width="3" height="26" fill="#c0c0c0"/>
<rect x="903" y="434" width="3" height="29" fill="#c0c0c0"/>
<rect x="907" y="434" width="3" height="31" fill="#c0c0c0"/>
<rect x="911" y="434" width="3" height="31" fill="#c0c0c0"/>
<rect x="915" y="434" width="3" height="32" fill="#c0c0c0"/>
<rect x="919" y="434" width="3" height="33" fill="#c0c0c0"/>
<rect x="923" y="434" width="3" height="34" fill="#c0c0c0"/>
<rect x="927" y="434" width="3" height="37" fill="#c0c0c0"/>
<path d="M811 411h17v1h-17zM807 412h4v1h-4zM828 412h2v1h-2zM803 413h4v1h-4zM830 413h2v1h-2zM799 414h4v1h-4zM832 414h2v1h-2zM796 415h3v1h-3zM834 415h2v1h-2zM794 416h2v1h-2zM836 416h3v1h-3zM792 417h2v1h-2zM839 417h3v1h-3zM790 418h2v1h-2zM842 418h2v1h-2zM788 419h2v1h-2zM844 419h1v1h-1zM786 420h2v1h-2zM845 420h2v1h-2zM784 421h2v1h-2zM847 421h1v1h-1zM782 422h2v1h-2zM848 422h1v1h-1zM232 423h14v1h-14zM780 423h2v1h-2zM849 423h2v1h-2zM192 424h6v1h-6zM220 424h12v1h-12zM246 424h3v1h-3zM778 424h2v1h-2zM851 424h1v1h-1zM4 425h2v1h-2zM177 425h15v1h-15zM198 425h22v1h-22zM249 425h4v1h-4zM776 425h2v1h-2zM852 425h1v1h-1zM6 426h2v1h-2zM174 426h3v1h-3zM253 426h4v1h-4zM646 426h14v1h-14zM775 426h1v1h-1zM853 426h2v1h-2zM8 427h2v1h-2zM172 427h2v1h-2zM257 427h4v1h-4zM644 427h2v1h-2zM660 427h3v1h-3zM773 427h2v1h-2zM855 427h1v1h-1zM10 428h2v1h-2zM170 428h2v1h-2zM261 428h4v1h-4zM642 428h2v1h-2zM663 428h3v1h-3zM772 428h1v1h-1zM856 428h1v1h-1zM12 429h2v1h-2zM168 429h2v1h-2zM265 429h4v1h-4zM640 429h2v1h-2zM666 429h2v1h-2zM770 429h2v1h-2zM857 429h2v1h-2zM14 430h2v1h-2zM165 430h3v1h-3zM269 430h4v1h-4zM638 430h2v1h-2zM668 430h3v1h-3zM768 430h2v1h-2zM859 430h1v1h-1zM16 431h2v1h-2zM162 431h3v1h-3zM273 431h4v1h-4zM636 431h2v1h-2zM671 431h3v1h-3zM766 431h2v1h-2zM860 431h1v1h-1zM18 432h2v1h-2zM160 432h2v1h-2zM277 432h4v1h-4zM635 432h1v1h-1zM674 432h2v1h-2zM764 432h2v1h-2zM861 432h2v1h-2zM20 433h2v1h-2zM156 433h4v1h-4zM281 433h4v1h-4zM633 433h2v1h-2zM676 433h1v1h-1zM762 433h2v1h-2zM863 433h1v1h-1zM22 434h2v1h-2zM154 434h2v1h-2zM285 434h11v1h-11zM632 434h1v1h-1zM677 434h2v1h-2zM760 434h2v1h-2zM864 434h2v1h-2zM24 435h3v1h-3zM43 435h19v1h-19zM151 435h3v1h-3zM296 435h2v1h-2zM631 435h1v1h-1zM679 435h1v1h-1zM758 435h2v1h-2zM866 435h2v1h-2zM27 436h4v1h-4zM35 436h8v1h-8zM62 436h2v1h-2zM148 436h3v1h-3zM298 436h6v1h-6zM629 436h2v1h-2zM680 436h3v1h-3zM755 436h3v1h-3zM868 436h2v1h-2zM31 437h4v1h-4zM64 437h2v1h-2zM146 437h2v1h-2zM304 437h40v1h-40zM628 437h1v1h-1zM683 437h3v1h-3zM751 437h4v1h-4zM870 437h2v1h-2zM66 438h2v1h-2zM144 438h2v1h-2zM344 438h3v1h-3zM627 438h1v1h-1zM686 438h2v1h-2zM747 438h4v1h-4zM872 438h1v1h-1zM68 439h2v1h-2zM142 439h2v1h-2zM347 439h3v1h-3zM625 439h2v1h-2zM688 439h2v1h-2zM744 439h3v1h-3zM873 439h2v1h-2zM70 440h2v1h-2zM140 440h2v1h-2zM350 440h2v1h-2zM624 440h1v1h-1zM690 440h2v1h-2zM742 440h2v1h-2zM875 440h1v1h-1zM72 441h2v1h-2zM139 441h1v1h-1zM352 441h2v1h-2zM623 441h1v1h-1zM692 441h3v1h-3zM739 441h3v1h-3zM876 441h2v1h-2zM74 442h2v1h-2zM137 442h2v1h-2zM354 442h2v1h-2zM621 442h2v1h-2zM695 442h4v1h-4zM735 442h4v1h-4zM878 442h2v1h-2zM76 443h2v1h-2zM135 443h2v1h-2zM356 443h2v1h-2zM620 443h1v1h-1zM699 443h4v1h-4zM731 443h4v1h-4zM880 443h1v1h-1zM78 444h2v1h-2zM132 444h3v1h-3zM358 444h2v1h-2zM619 444h1v1h-1zM703 444h9v1h-9zM722 444h9v1h-9zM881 444h2v1h-2zM80 445h2v1h-2zM130 445h2v1h-2zM360 445h1v1h-1zM617 445h2v1h-2zM712 445h10v1h-10zM883 445h1v1h-1zM82 446h2v1h-2zM127 446h3v1h-3zM361 446h2v1h-2zM616 446h1v1h-1zM884 446h2v1h-2zM84 447h3v1h-3zM123 447h4v1h-4zM363 447h1v1h-1zM548 447h15v1h-15zM615 447h1v1h-1zM886 447h2v1h-2zM87 448h3v1h-3zM119 448h4v1h-4zM364 448h2v1h-2zM539 448h9v1h-9zM563 448h4v1h-4zM614 448h1v1h-1zM888 448h3v1h-3zM90 449h2v1h-2zM111 449h8v1h-8zM366 449h2v1h-2zM535 449h4v1h-4zM567 449h3v1h-3zM613 449h1v1h-1zM891 449h4v1h-4zM92 450h19v1h-19zM368 450h2v1h-2zM531 450h4v1h-4zM570 450h2v1h-2zM612 450h1v1h-1zM895 450h3v1h-3zM370 451h2v1h-2zM523 451h8v1h-8zM572 451h3v1h-3zM610 451h2v1h-2zM898 451h2v1h-2zM372 452h2v1h-2zM519 452h4v1h-4zM575 452h3v1h-3zM608 452h2v1h-2zM900 452h2v1h-2zM374 453h2v1h-2zM516 453h3v1h-3zM578 453h2v1h-2zM606 453h2v1h-2zM902 453h2v1h-2zM376 454h3v1h-3zM514 454h2v1h-2zM580 454h3v1h-3zM603 454h3v1h-3zM904 454h1v1h-1zM379 455h4v1h-4zM511 455h3v1h-3zM583 455h3v1h-3zM600 455h3v1h-3zM905 455h2v1h-2zM383 456h41v1h-41zM426 456h34v1h-34zM507 456h4v1h-4zM586 456h2v1h-2zM598 456h2v1h-2zM907 456h1v1h-1zM424 457h2v1h-2zM460 457h4v1h-4zM503 457h4v1h-4zM588 457h10v1h-10zM908 457h3v1h-3zM464 458h10v1h-10zM500 458h3v1h-3zM911 458h4v1h-4zM474 459h2v1h-2zM492 459h8v1h-8zM915 459h3v1h-3zM476 460h16v1h-16zM918 460h2v1h-2zM920 461h3v1h-3zM923 462h4v1h-4zM927 463h2v1h-2z" fill="#ff0000"/>
<line x1="5" y1="498.5" x2="1166" y2="498.5" stroke="#c0c0c0" stroke-width="1" stroke-dasharray="3,3"/>
<line x1="5" y1="526.5" x2="1166" y2="526.5" stroke="#c0c0c0" stroke-width="1" stroke-dasharray="3,3"/>
<path d="M776 496h1v1h-1zM775 497h1v1h-1zM777 497h1v1h-1zM773 498h2v1h-2zM777 498h1v1h-1zM772 499h1v1h-1zM778 499h1v1h-1zM796 499h2v1h-2zM804 499h3v1h-3zM771 500h1v1h-1zM778 500h1v1h-1zM794 500h2v1h-2zM798 500h2v1h-2zM802 500h2v1h-2zM807 500h4v1h-4zM762 501h4v1h-4zM770 501h1v1h-1zM779 501h1v1h-1zM792 501h2v1h-2zM800 501h2v1h-2zM811 501h6v1h-6zM616 502h2v1h-2zM755 502h7v1h-7zM766 502h2v1h-2zM769 502h1v1h-1zM779 502h1v1h-1zM790 502h2v1h-2zM816 502h1v1h-1zM615 503h1v1h-1zM618 503h2v1h-2zM753 503h2v1h-2zM768 503h1v1h-1zM780 503h10v1h-10zM817 503h1v1h-1zM210 504h3v1h-3zM614 504h1v1h-1zM620 504h5v1h-5zM752 504h1v1h-1zM817 504h1v1h-1zM131 505h3v1h-3zM144 505h1v1h-1zM168 505h1v1h-1zM207 505h3v1h-3zM213 505h2v1h-2zM613 505h1v1h-1zM625 505h1v1h-1zM751 505h1v1h-1zM817 505h1v1h-1zM128 506h3v1h-3zM134 506h2v1h-2zM143 506h1v1h-1zM145 506h1v1h-1zM167 506h1v1h-1zM169 506h2v1h-2zM176 506h3v1h-3zM206 506h1v1h-1zM215 506h6v1h-6zM612 506h1v1h-1zM626 506h1v1h-1zM750 506h1v1h-1zM818 506h1v1h-1zM127 507h1v1h-1zM136 507h2v1h-2zM142 507h1v1h-1zM146 507h1v1h-1zM152 507h1v1h-1zM166 507h1v1h-1zM171 507h1v1h-1zM174 507h2v1h-2zM179 507h2v1h-2zM205 507h1v1h-1zM220 507h1v1h-1zM610 507h2v1h-2zM626 507h1v1h-1zM744 507h2v1h-2zM750 507h1v1h-1zM818 507h1v1h-1zM36 508h1v1h-1zM127 508h1v1h-1zM138 508h2v1h-2zM141 508h1v1h-1zM147 508h1v1h-1zM150 508h2v1h-2zM153 508h1v1h-1zM160 508h3v1h-3zM165 508h1v1h-1zM172 508h2v1h-2zM181 508h1v1h-1zM204 508h1v1h-1zM221 508h1v1h-1zM608 508h2v1h-2zM627 508h1v1h-1zM743 508h1v1h-1zM746 508h2v1h-2zM749 508h1v1h-1zM819 508h1v1h-1zM35 509h1v1h-1zM37 509h1v1h-1zM126 509h1v1h-1zM140 509h1v1h-1zM148 509h2v1h-2zM154 509h1v1h-1zM159 509h1v1h-1zM163 509h2v1h-2zM181 509h1v1h-1zM203 509h1v1h-1zM221 509h1v1h-1zM607 509h1v1h-1zM628 509h2v1h-2zM732 509h3v1h-3zM742 509h1v1h-1zM748 509h1v1h-1zM819 509h1v1h-1zM824 509h1v1h-1zM16 510h2v1h-2zM34 510h1v1h-1zM38 510h1v1h-1zM126 510h1v1h-1zM154 510h1v1h-1zM158 510h1v1h-1zM182 510h1v1h-1zM192 510h1v1h-1zM201 510h2v1h-2zM222 510h1v1h-1zM232 510h3v1h-3zM243 510h2v1h-2zM605 510h2v1h-2zM630 510h2v1h-2zM731 510h1v1h-1zM735 510h3v1h-3zM742 510h1v1h-1zM819 510h1v1h-1zM823 510h1v1h-1zM825 510h1v1h-1zM15 511h1v1h-1zM18 511h2v1h-2zM34 511h1v1h-1zM38 511h1v1h-1zM125 511h1v1h-1zM155 511h1v1h-1zM157 511h1v1h-1zM182 511h1v1h-1zM191 511h1v1h-1zM193 511h2v1h-2zM199 511h2v1h-2zM222 511h1v1h-1zM231 511h1v1h-1zM235 511h8v1h-8zM245 511h1v1h-1zM311 511h3v1h-3zM595 511h3v1h-3zM604 511h1v1h-1zM632 511h17v1h-17zM730 511h1v1h-1zM738 511h2v1h-2zM741 511h1v1h-1zM820 511h3v1h-3zM825 511h1v1h-1zM14 512h1v1h-1zM20 512h8v1h-8zM33 512h1v1h-1zM39 512h1v1h-1zM125 512h1v1h-1zM156 512h1v1h-1zM183 512h1v1h-1zM189 512h2v1h-2zM195 512h1v1h-1zM197 512h2v1h-2zM223 512h1v1h-1zM230 512h1v1h-1zM245 512h1v1h-1zM252 512h2v1h-2zM289 512h7v1h-7zM304 512h7v1h-7zM314 512h2v1h-2zM324 512h1v1h-1zM592 512h3v1h-3zM598 512h2v1h-2zM602 512h2v1h-2zM649 512h1v1h-1zM719 512h9v1h-9zM729 512h1v1h-1zM740 512h1v1h-1zM820 512h1v1h-1zM826 512h1v1h-1zM13 513h1v1h-1zM28 513h5v1h-5zM40 513h6v1h-6zM52 513h1v1h-1zM124 513h1v1h-1zM183 513h1v1h-1zM187 513h2v1h-2zM196 513h1v1h-1zM223 513h1v1h-1zM230 513h1v1h-1zM246 513h1v1h-1zM251 513h1v1h-1zM254 513h2v1h-2zM264 513h8v1h-8zM288 513h1v1h-1zM296 513h1v1h-1zM303 513h1v1h-1zM316 513h3v1h-3zM322 513h2v1h-2zM325 513h1v1h-1zM591 513h1v1h-1zM600 513h2v1h-2zM650 513h1v1h-1zM656 513h1v1h-1zM715 513h4v1h-4zM728 513h1v1h-1zM827 513h1v1h-1zM11 514h2v1h-2zM46 514h2v1h-2zM50 514h3v1h-3zM96 514h5v1h-5zM108 514h2v1h-2zM124 514h1v1h-1zM184 514h3v1h-3zM224 514h3v1h-3zM229 514h1v1h-1zM247 514h1v1h-1zM250 514h1v1h-1zM256 514h3v1h-3zM262 514h2v1h-2zM272 514h5v1h-5zM287 514h1v1h-1zM297 514h1v1h-1zM303 514h1v1h-1zM319 514h3v1h-3zM326 514h1v1h-1zM516 514h1v1h-1zM544 514h3v1h-3zM591 514h1v1h-1zM650 514h1v1h-1zM655 514h1v1h-1zM657 514h1v1h-1zM684 514h1v1h-1zM712 514h3v1h-3zM827 514h1v1h-1zM840 514h1v1h-1zM8 515h3v1h-3zM48 515h2v1h-2zM53 515h1v1h-1zM95 515h1v1h-1zM101 515h1v1h-1zM107 515h1v1h-1zM110 515h2v1h-2zM122 515h2v1h-2zM227 515h2v1h-2zM247 515h1v1h-1zM249 515h1v1h-1zM259 515h3v1h-3zM277 515h2v1h-2zM286 515h1v1h-1zM297 515h1v1h-1zM302 515h1v1h-1zM327 515h1v1h-1zM331 515h8v1h-8zM508 515h3v1h-3zM514 515h2v1h-2zM517 515h1v1h-1zM536 515h1v1h-1zM543 515h1v1h-1zM547 515h2v1h-2zM584 515h1v1h-1zM590 515h1v1h-1zM651 515h1v1h-1zM653 515h2v1h-2zM658 515h1v1h-1zM683 515h1v1h-1zM685 515h1v1h-1zM696 515h1v1h-1zM711 515h1v1h-1zM828 515h3v1h-3zM838 515h2v1h-2zM841 515h1v1h-1zM7 516h1v1h-1zM53 516h1v1h-1zM94 516h1v1h-1zM102 516h1v1h-1zM106 516h1v1h-1zM112 516h3v1h-3zM119 516h3v1h-3zM248 516h1v1h-1zM279 516h1v1h-1zM285 516h1v1h-1zM298 516h1v1h-1zM302 516h1v1h-1zM328 516h3v1h-3zM339 516h2v1h-2zM507 516h1v1h-1zM511 516h3v1h-3zM518 516h1v1h-1zM535 516h1v1h-1zM537 516h2v1h-2zM542 516h1v1h-1zM549 516h2v1h-2zM582 516h2v1h-2zM585 516h2v1h-2zM589 516h1v1h-1zM652 516h1v1h-1zM659 516h1v1h-1zM683 516h1v1h-1zM686 516h1v1h-1zM694 516h2v1h-2zM697 516h2v1h-2zM710 516h1v1h-1zM831 516h7v1h-7zM842 516h1v1h-1zM6 517h1v1h-1zM54 517h1v1h-1zM93 517h1v1h-1zM103 517h1v1h-1zM105 517h1v1h-1zM115 517h4v1h-4zM280 517h5v1h-5zM298 517h1v1h-1zM301 517h1v1h-1zM341 517h1v1h-1zM492 517h1v1h-1zM506 517h1v1h-1zM518 517h1v1h-1zM534 517h1v1h-1zM539 517h1v1h-1zM541 517h1v1h-1zM551 517h1v1h-1zM580 517h2v1h-2zM587 517h1v1h-1zM589 517h1v1h-1zM660 517h2v1h-2zM682 517h1v1h-1zM687 517h1v1h-1zM691 517h3v1h-3zM699 517h1v1h-1zM709 517h1v1h-1zM843 517h1v1h-1zM5 518h1v1h-1zM54 518h1v1h-1zM70 518h8v1h-8zM88 518h5v1h-5zM104 518h1v1h-1zM299 518h1v1h-1zM301 518h1v1h-1zM341 518h1v1h-1zM379 518h3v1h-3zM408 518h1v1h-1zM440 518h1v1h-1zM491 518h1v1h-1zM493 518h1v1h-1zM505 518h1v1h-1zM519 518h1v1h-1zM533 518h1v1h-1zM540 518h1v1h-1zM552 518h1v1h-1zM579 518h1v1h-1zM588 518h1v1h-1zM662 518h2v1h-2zM682 518h1v1h-1zM688 518h3v1h-3zM700 518h1v1h-1zM708 518h1v1h-1zM844 518h1v1h-1zM862 518h2v1h-2zM4 519h1v1h-1zM55 519h1v1h-1zM68 519h2v1h-2zM78 519h2v1h-2zM87 519h1v1h-1zM299 519h2v1h-2zM342 519h1v1h-1zM371 519h8v1h-8zM382 519h2v1h-2zM400 519h3v1h-3zM406 519h2v1h-2zM409 519h2v1h-2zM424 519h8v1h-8zM439 519h1v1h-1zM441 519h1v1h-1zM489 519h2v1h-2zM494 519h1v1h-1zM504 519h1v1h-1zM520 519h3v1h-3zM531 519h2v1h-2zM553 519h1v1h-1zM578 519h1v1h-1zM664 519h3v1h-3zM681 519h1v1h-1zM701 519h1v1h-1zM707 519h1v1h-1zM845 519h2v1h-2zM856 519h6v1h-6zM864 519h2v1h-2zM55 520h1v1h-1zM67 520h1v1h-1zM80 520h3v1h-3zM85 520h2v1h-2zM300 520h1v1h-1zM342 520h1v1h-1zM367 520h4v1h-4zM384 520h1v1h-1zM399 520h1v1h-1zM403 520h3v1h-3zM411 520h1v1h-1zM423 520h1v1h-1zM432 520h2v1h-2zM438 520h1v1h-1zM442 520h1v1h-1zM480 520h3v1h-3zM487 520h2v1h-2zM494 520h1v1h-1zM503 520h1v1h-1zM523 520h8v1h-8zM553 520h1v1h-1zM577 520h1v1h-1zM667 520h7v1h-7zM681 520h1v1h-1zM702 520h1v1h-1zM706 520h1v1h-1zM847 520h1v1h-1zM855 520h1v1h-1zM866 520h2v1h-2zM56 521h3v1h-3zM65 521h2v1h-2zM83 521h2v1h-2zM343 521h1v1h-1zM364 521h3v1h-3zM385 521h1v1h-1zM399 521h1v1h-1zM412 521h3v1h-3zM423 521h1v1h-1zM434 521h2v1h-2zM437 521h1v1h-1zM443 521h1v1h-1zM468 521h3v1h-3zM478 521h2v1h-2zM483 521h4v1h-4zM495 521h1v1h-1zM501 521h2v1h-2zM554 521h1v1h-1zM576 521h1v1h-1zM674 521h2v1h-2zM680 521h1v1h-1zM702 521h1v1h-1zM706 521h1v1h-1zM848 521h1v1h-1zM854 521h1v1h-1zM868 521h2v1h-2zM59 522h6v1h-6zM343 522h1v1h-1zM363 522h1v1h-1zM386 522h1v1h-1zM398 522h1v1h-1zM415 522h2v1h-2zM422 522h1v1h-1zM436 522h1v1h-1zM444 522h3v1h-3zM467 522h1v1h-1zM471 522h7v1h-7zM496 522h5v1h-5zM555 522h1v1h-1zM576 522h1v1h-1zM676 522h5v1h-5zM703 522h1v1h-1zM705 522h1v1h-1zM849 522h2v1h-2zM854 522h1v1h-1zM870 522h2v1h-2zM875 522h2v1h-2zM344 523h1v1h-1zM361 523h2v1h-2zM387 523h1v1h-1zM398 523h1v1h-1zM417 523h2v1h-2zM421 523h1v1h-1zM447 523h4v1h-4zM466 523h1v1h-1zM555 523h1v1h-1zM575 523h1v1h-1zM704 523h1v1h-1zM851 523h1v1h-1zM853 523h1v1h-1zM872 523h3v1h-3zM877 523h2v1h-2zM345 524h2v1h-2zM360 524h1v1h-1zM388 524h5v1h-5zM397 524h1v1h-1zM419 524h1v1h-1zM421 524h1v1h-1zM451 524h2v1h-2zM465 524h1v1h-1zM556 524h2v1h-2zM575 524h1v1h-1zM852 524h1v1h-1zM879 524h1v1h-1zM347 525h1v1h-1zM359 525h1v1h-1zM393 525h2v1h-2zM397 525h1v1h-1zM420 525h1v1h-1zM453 525h2v1h-2zM463 525h2v1h-2zM558 525h2v1h-2zM574 525h1v1h-1zM880 525h12v1h-12zM348 526h1v1h-1zM358 526h1v1h-1zM395 526h2v1h-2zM455 526h1v1h-1zM459 526h4v1h-4zM560 526h1v1h-1zM574 526h1v1h-1zM892 526h3v1h-3zM349 527h2v1h-2zM358 527h1v1h-1zM396 527h1v1h-1zM456 527h3v1h-3zM561 527h1v1h-1zM573 527h1v1h-1zM895 527h3v1h-3zM351 528h1v1h-1zM357 528h1v1h-1zM562 528h1v1h-1zM573 528h1v1h-1zM898 528h2v1h-2zM908 528h8v1h-8zM352 529h5v1h-5zM563 529h1v1h-1zM572 529h1v1h-1zM900 529h1v1h-1zM907 529h1v1h-1zM916 529h2v1h-2zM564 530h9v1h-9zM901 530h1v1h-1zM906 530h1v1h-1zM918 530h4v1h-4zM902 531h2v1h-2zM905 531h1v1h-1zM922 531h2v1h-2zM904 532h1v1h-1zM924 532h1v1h-1zM925 533h2v1h-2zM927 534h1v1h-1zM928 535h1v1h-1z" fill="#1e90ff"/>
</svg>
<div class="t ax" style="left:1172px;top:33px;">0.79055</div>
<div class="t ax" style="left:1172px;top:66px;">0.78205</div>
<div class="t ax" style="left:1172px;top:99px;">0.77380</div>
<div class="t ax" style="left:1172px;top:132px;">0.76530</div>
<div class="t ax" style="left:1172px;top:165px;">0.75680</div>
<div class="t ax" style="left:1172px;top:198px;">0.74855</div>
<div class="t ax" style="left:1172px;top:264px;">0.73155</div>
<div class="t ax" style="left:1172px;top:297px;">0.72330</div>
<div class="t ax" style="left:1172px;top:330px;">0.71480</div>
<div class="t ax" style="left:1172px;top:363px;">0.70630</div>
<div class="t ax" style="left:1170.5px;top:408px;">0.006181</div>
<div class="t ax" style="left:1170.5px;top:430px;">0.00</div>
<div class="t ax" style="left:1170.5px;top:463px;">-0.008789</div>
<div class="t ax" style="left:1170.5px;top:479px;">100</div>
<div class="t ax" style="left:1169.5px;top:494px;">70</div>
<div class="t ax" style="left:1169.5px;top:522px;">30</div>
<div class="t ax" style="left:1170.5px;top:537px;">0</div>
<div class="pl" style="top:119px;background:#ff0000"><span>0.76819</span></div>
<div class="pl" style="top:170px;background:#ff0000"><span>0.75509</span></div>
<div class="pl" style="top:229px;background:#ff0000"><span>0.74003</span></div>
<div class="pl" style="top:292px;background:#00ff00"><span>0.72406</span></div>
<div class="pl" style="top:345px;background:#0000ff"><span>0.71052</span></div>
<div class="pl" style="top:388px;background:#000000"><span>0.69963</span></div>
<div class="pl" style="top:394px;background:#0000ff"><span>0.69806</span></div>
<div class="t ax" style="left:3px;top:553.5px;letter-spacing:-0.05px">8 Mar 2021</div>
<div class="t ax" style="left:67px;top:553.5px;letter-spacing:-0.05px">26 Mar 2021</div>
<div class="t ax" style="left:131px;top:553.5px;letter-spacing:-0.05px">15 Apr 2021</div>
<div class="t ax" style="left:195px;top:553.5px;letter-spacing:-0.05px">4 May 2021</div>
<div class="t ax" style="left:259px;top:553.5px;letter-spacing:-0.05px">23 May 2021</div>
<div class="t ax" style="left:323px;top:553.5px;letter-spacing:-0.05px">10 Jun 2021</div>
<div class="t ax" style="left:387px;top:553.5px;letter-spacing:-0.05px">29 Jun 2021</div>
<div class="t ax" style="left:451px;top:553.5px;letter-spacing:-0.05px">18 Jul 2021</div>
<div class="t ax" style="left:515px;top:553.5px;letter-spacing:-0.05px">5 Aug 2021</div>
<div class="t ax" style="left:579px;top:553.5px;letter-spacing:-0.05px">24 Aug 2021</div>
<div class="t ax" style="left:643px;top:553.5px;letter-spacing:-0.05px">12 Sep 2021</div>
<div class="t ax" style="left:707px;top:553.5px;letter-spacing:-0.05px">30 Sep 2021</div>
<div class="t ax" style="left:771px;top:553.5px;letter-spacing:-0.05px">19 Oct 2021</div>
<div class="t ax" style="left:835px;top:553.5px;letter-spacing:-0.05px">7 Nov 2021</div>
<div class="t ax" style="left:899px;top:553.5px;letter-spacing:-0.05px">25 Nov 2021</div>
<svg width="20" height="12" style="left:6px;top:29px" viewBox="0 0 20 12"><polygon points="1,6.5 8,6.5 4.5,2" fill="#000"/></svg>
<div class="t ax" style="left:20px;top:28px;letter-spacing:0.1px">AUDUSD-,Daily&nbsp; 0.70862 0.70889 0.69963 0.69963</div>
<div class="t ax" style="left:8px;top:409.5px;letter-spacing:0.03px">MACD(12,26,9) -0.008108 -0.006629</div>
<div class="t ax" style="left:8px;top:480.5px;letter-spacing:0.03px">RSI(14) 18.1620</div>
<div style="position:absolute;left:7px;top:44px;width:219px;height:57px;">
<div style="position:absolute;left:0;top:0;width:52px;height:57px;background:linear-gradient(#f84a4a 0%,#e03030 35%,#c81818 65%,#b00000 100%);"></div>
<div style="position:absolute;left:0;top:24px;width:109px;height:33px;background:linear-gradient(#d92a2a,#b20000);box-shadow:inset 0 0 0 1px rgba(150,0,0,0.6);"></div>
<div style="position:absolute;left:0;top:0;width:52px;height:24px;background:linear-gradient(#f84c4c,#dc2c2c);box-shadow:inset 1px 0 0 #c41414,inset -1px 0 0 #c41414,inset 0 1px 0 #c41414"></div>
<div style="position:absolute;left:111px;top:24px;width:108px;height:33px;background:linear-gradient(#d92a2a,#b20000);box-shadow:inset 0 0 0 1px rgba(150,0,0,0.6);"></div>
<div style="position:absolute;left:167px;top:0;width:52px;height:24px;background:linear-gradient(#f84c4c,#dc2c2c);box-shadow:inset 1px 0 0 #c41414,inset -1px 0 0 #c41414,inset 0 1px 0 #c41414"></div>
<div style="position:absolute;left:1px;top:24px;width:50px;height:1px;background:#da2a2a"></div><div style="position:absolute;left:168px;top:24px;width:50px;height:1px;background:#da2a2a"></div>
<div style="position:absolute;left:4px;top:23px;width:44px;height:1px;background:#a00c0c"></div><div style="position:absolute;left:4px;top:24px;width:44px;height:1px;background:#ff9c9c"></div>
<div style="position:absolute;left:171px;top:23px;width:44px;height:1px;background:#a00c0c"></div><div style="position:absolute;left:171px;top:24px;width:44px;height:1px;background:#ff9c9c"></div>
<div class="t" style="left:12px;top:6px;font-size:12.5px;color:#fff;transform:scaleX(0.86);transform-origin:0 0">SELL</div>
<div class="t" style="left:179.5px;top:6px;font-size:12.5px;color:#fff;">BUY</div>
<div class="t" style="left:19.5px;top:43px;font-size:11px;font-weight:bold;color:#fff;transform:scaleX(1.12);transform-origin:0 0">0.69</div>
<div class="t big" style="left:45.5px;">96</div>
<div class="t" style="left:87.5px;top:28px;font-size:10px;font-weight:bold;color:#fff;transform:scaleX(1.15);transform-origin:0 0">3</div>
<div class="t" style="left:129.5px;top:43px;font-size:11px;font-weight:bold;color:#fff;transform:scaleX(1.12);transform-origin:0 0">0.69</div>
<div class="t big" style="left:156px;">98</div>
<div class="t" style="left:198px;top:28px;font-size:10px;font-weight:bold;color:#fff;transform:scaleX(1.15);transform-origin:0 0">3</div>
<div style="position:absolute;left:54px;top:0;width:109px;height:20px;border:1px solid #b0b4bc;background:#fff"></div>
<div style="position:absolute;left:55px;top:1px;width:20px;height:20px;background:linear-gradient(#eeeeee 0%,#e8e8e8 48%,#d6d6d6 52%,#dcdcdc 100%);border-right:1px solid #b0b4bc"></div>
<div style="position:absolute;left:144px;top:1px;width:19px;height:20px;background:linear-gradient(#eeeeee 0%,#e8e8e8 48%,#d6d6d6 52%,#dcdcdc 100%);border-left:1px solid #b0b4bc;margin-left:-1px"></div>
<svg width="8" height="6" style="left:61px;top:8px" viewBox="0 0 8 6" shape-rendering="auto"><polygon points="0.5,1 6.5,1 3.5,4.5" fill="#4a5cc0"/></svg>
<svg width="8" height="6" style="left:150px;top:8px" viewBox="0 0 8 6" shape-rendering="auto"><polygon points="0.5,4.5 6.5,4.5 3.5,1" fill="#4a5cc0"/></svg>
<div class="t" style="left:100px;width:40px;text-align:right;top:5px;font-size:12px;color:#000">0.01</div>
</div>
<svg width="30" height="10" style="left:1180px;top:575px" viewBox="0 0 30 10" shape-rendering="auto"><polygon points="2,5 5.5,1.5 5.5,8.5" fill="#8c8c8c"/><polygon points="24.5,5 21,1.5 21,8.5" fill="#8c8c8c"/></svg>
</body></html>
